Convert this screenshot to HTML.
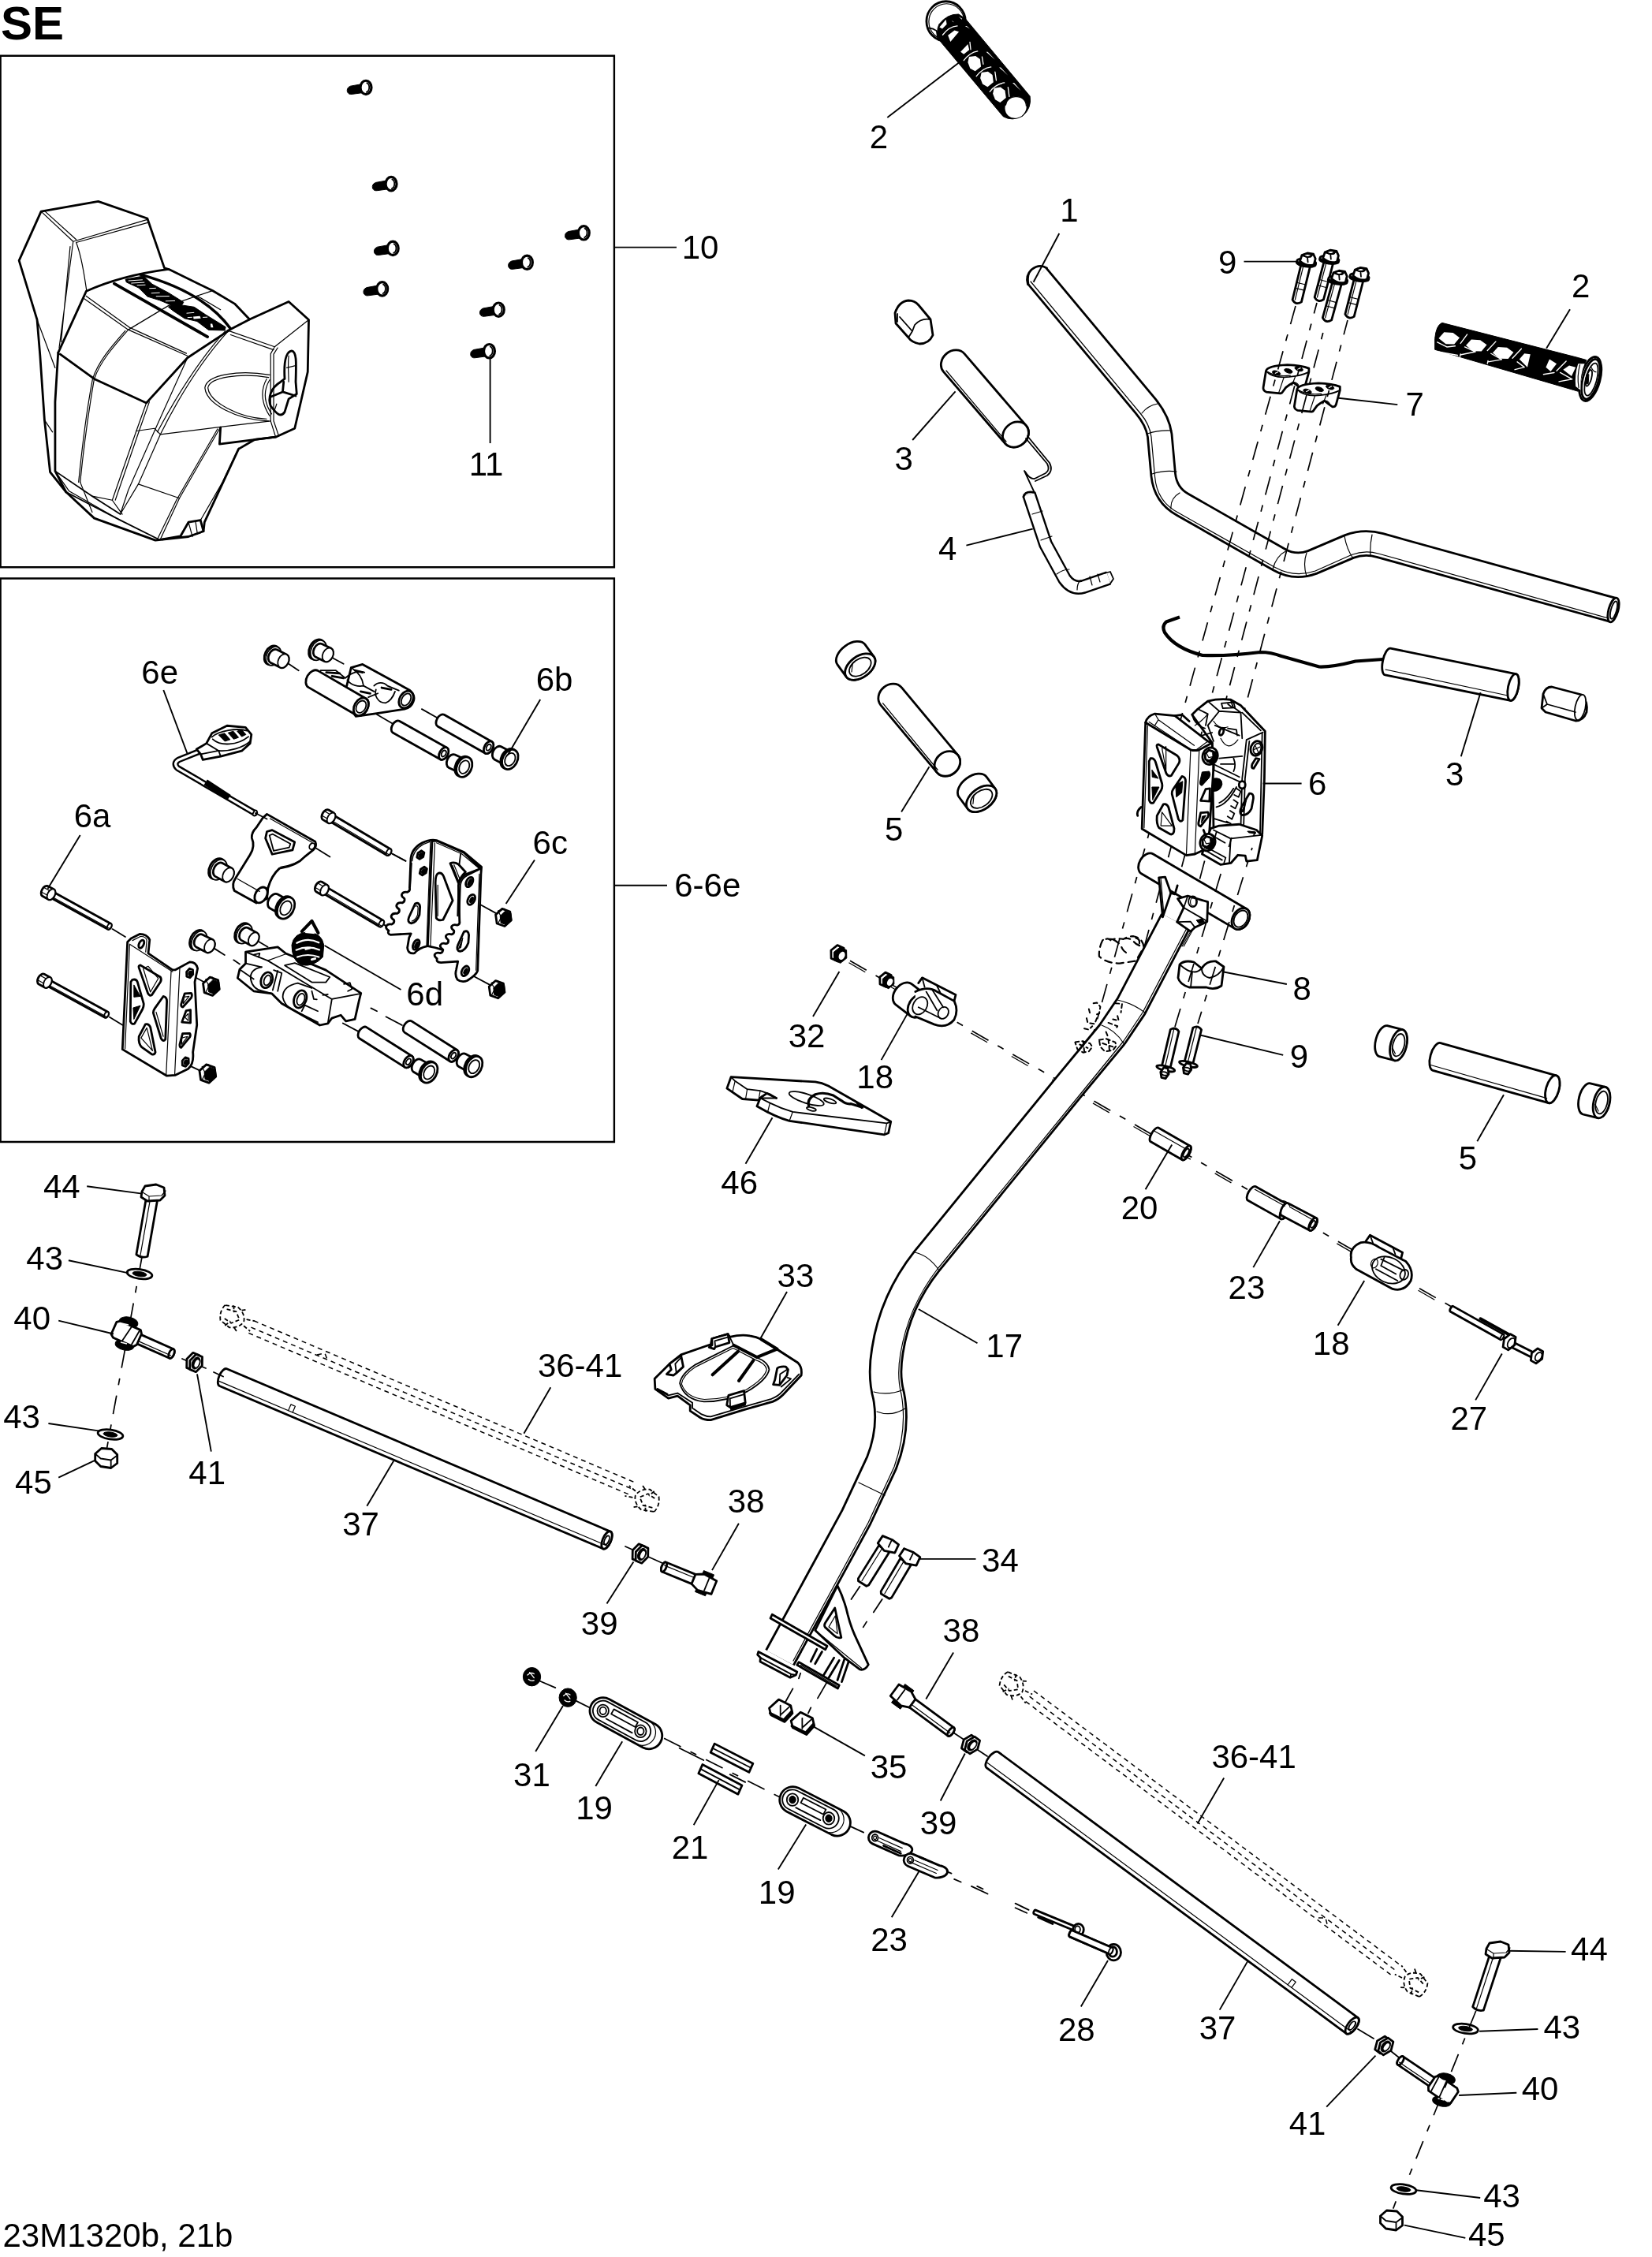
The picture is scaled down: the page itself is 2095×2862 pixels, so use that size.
<!DOCTYPE html>
<html><head><meta charset="utf-8"><title>SE steering</title>
<style>
html,body{margin:0;padding:0;background:#fff;}
body{width:2095px;height:2862px;overflow:hidden;font-family:"Liberation Sans",sans-serif;}
svg{display:block;position:absolute;left:0;top:0;}
svg *{vector-effect:non-scaling-stroke;}
.k{stroke:#000;stroke-width:2.8;fill:none;stroke-linejoin:round;stroke-linecap:round;}
.kf{stroke:#000;stroke-width:2.8;fill:#fff;stroke-linejoin:round;stroke-linecap:round;}
.n{stroke:#000;stroke-width:1.2;fill:none;stroke-linejoin:round;stroke-linecap:round;}
.nf{stroke:#000;stroke-width:1.2;fill:#fff;stroke-linejoin:round;stroke-linecap:round;}
.m{stroke:#000;stroke-width:1.8;fill:none;stroke-linejoin:round;stroke-linecap:round;}
.mf{stroke:#000;stroke-width:1.8;fill:#fff;stroke-linejoin:round;stroke-linecap:round;}
.b{fill:#000;stroke:#000;stroke-width:1;stroke-linejoin:round;}
.w{fill:#fff;stroke:none;}
.ld{stroke:#000;stroke-width:1.9;fill:none;stroke-linecap:butt;}
.da{stroke:#000;stroke-width:1.7;fill:none;stroke-dasharray:30 12;}
.ph{stroke:#000;stroke-width:1.5;fill:none;stroke-dasharray:6 5;}
text{font-family:"Liberation Sans",sans-serif;font-size:42px;fill:#000;}
</style></head><body>
<svg width="2095" height="2862" viewBox="0 0 2095 2862">
<rect x="0" y="0" width="2095" height="2862" fill="#fff"/>
<!-- 01_frames.svgf -->
<rect x="0.6" y="70.8" width="778.3" height="648.4" class="m" style="stroke-width:2.4;stroke-linejoin:miter"/>
<rect x="0.6" y="733.5" width="778.3" height="714.5" class="m" style="stroke-width:2.4;stroke-linejoin:miter"/>

<!-- 10_cover.svgf -->
<g transform="translate(0,230) scale(0.25424)">
<!-- silhouette -->
<path class="kf" d="M205,150 L490,100 L735,185 L820,432 L845,440 L1060,545 L1170,610 L1245,688 L1440,600 L1540,690 L1535,950 L1470,1232 L1375,1275 L1270,1288 L1190,1335 L1020,1700 L1015,1745 L940,1772 L775,1790 L470,1680 L330,1550 L250,1450 L222,1190 L200,870 L185,690 L95,395 Z"/>
<!-- body thick lines -->
<path class="k" d="M290,855 L430,548 Q600,470 840,438"/>
<path class="k" d="M290,855 L275,1100 L275,1445 L330,1550"/>
<path class="m" d="M275,1445 L460,1570 L600,1660"/><path class="m" d="M330,1550 L600,1690 L790,1785"/>
<path class="k" d="M300,862 L470,985 L730,1105 L935,880 L1140,745"/>
<path class="k" d="M570,510 L1035,775" style="stroke-width:3.8"/>
<path class="k" d="M700,465 C900,520 1060,610 1150,735" style="stroke-width:3.4"/>
<path class="k" d="M1245,688 L1135,745"/>
<path class="k" d="M1375,1275 L1095,1310 L1100,1228"/>

<path class="k" d="M810,1785 L900,1770 L940,1700 L1000,1690 L1015,1745"/>
<path class="n" d="M940,1700 L960,1772 M975,1695 L985,1760"/>
<!-- thin lines horn -->
<path class="n" d="M205,150 L365,300 M225,150 L380,290 M365,300 L735,190 M380,305 L740,205 M365,300 L295,830 M350,325 L305,800 M380,305 C410,380 420,470 432,545"/>
<path class="n" d="M185,690 L275,930 M222,1190 L262,1250"/>
<!-- thin lines body -->
<path class="n" d="M420,585 L640,740 L935,870 M430,572 L645,728 L930,858"/>
<path class="n" d="M640,740 L840,620 L1060,545 M985,572 L1100,640"/>
<path class="n" d="M640,740 C560,830 500,900 470,985 C450,1100 420,1300 400,1500 M625,745 C550,830 490,900 462,985 C440,1100 412,1300 392,1500"/>
<path class="n" d="M730,1105 L680,1245 L560,1590 L610,1660 M745,1100 L692,1250 L575,1590"/>
<path class="n" d="M935,880 L775,1235 L640,1540 L600,1660 M1140,745 C1000,900 880,1100 800,1262 L690,1510 L600,1660 M1125,745 C985,900 865,1100 785,1250"/>
<path class="n" d="M680,1245 L770,1232 L800,1262 L1100,1225 L1350,1195"/>
<path class="n" d="M690,1510 L895,1580"/>
<path class="n" d="M1100,1225 L895,1580 L800,1785 M1085,1235 L880,1590 L785,1785"/>
<path class="n" d="M275,1445 L345,1545 L600,1690 M400,1500 L460,1650 M460,1570 L560,1590"/>
<path class="n" d="M1190,1330 L1110,1500 L1000,1690"/>
<!-- wing thin lines -->
<path class="n" d="M1140,745 L1370,825 L1540,690 M1150,765 L1365,840 M1370,825 L1350,860 L1350,1195 L1375,1275 M1385,830 L1365,862 L1365,1195 L1390,1268"/>
<path class="n" d="M1345,965 C1200,940 1030,960 1022,1030 C1030,1110 1180,1190 1340,1195 M1340,978 C1200,955 1045,975 1037,1030 C1045,1100 1190,1180 1330,1185"/>
<path class="n" d="M1330,985 C1300,1040 1300,1100 1345,1170 M1345,990 C1315,1040 1315,1100 1355,1160"/>
<!-- keyhole -->
<path class="k" d="M1455,845 C1480,850 1478,900 1475,1000 L1480,1060 L1440,1085 L1420,1150 C1400,1180 1380,1160 1350,1120 C1335,1080 1350,1030 1400,1000 L1420,985 C1415,900 1425,850 1455,845 Z"/>
<path class="k" d="M1350,1075 L1410,1050 L1415,1000 M1410,1050 L1475,1070"/>
<path class="n" d="M1440,870 C1435,920 1440,960 1440,1000 M1430,930 L1470,920 M1380,1110 L1370,1140"/>
<!-- logo -->
</g>
<g transform="translate(130,330) scale(0.121065)">
<path class="b" d="M240,200 L430,165 L520,250 L690,340 L850,440 L830,470 L960,490 L1080,570 L1290,700 L1280,735 L1110,730 L990,640 L860,610 L740,530 L690,490 L720,470 L600,420 L470,380 L380,290 L250,230 Z"/>
<path d="M270,215 L420,205 M300,240 L440,232 M360,262 L450,258 M490,295 L560,292 M510,345 L600,340 M560,378 L700,376 M660,428 L760,425 M880,555 L960,548 M890,600 L940,597 M1050,598 L1100,596" stroke="#fff" stroke-width="1" fill="none"/>
<path class="w" d="M950,590 L1020,585 L1030,610 L955,615 Z M1130,665 L1150,665 L1160,705 L1135,705 Z"/>
</g>

<!-- 11_screws.svgf -->
<defs><g id="scr11"><path class="b" d="M2,-24 L-88,-8 Q-112,2 -106,26 Q-98,42 -80,39 L2,28 Z"/><ellipse cx="2" cy="0" rx="32" ry="40" class="kf" style="stroke-width:3.2"/><path class="m" d="M8,-26 C26,-18 26,18 6,27"/></g></defs>
<g transform="translate(420,80) scale(0.21791)">
<use href="#scr11" x="200" y="142"/>
<use href="#scr11" x="347" y="703"/>
<use href="#scr11" x="357" y="1078"/>
<use href="#scr11" x="295" y="1314"/>
<use href="#scr11" x="1468" y="988"/>
<use href="#scr11" x="1138" y="1160"/>
<use href="#scr11" x="972" y="1435"/>
<use href="#scr11" x="918" y="1676"/>
</g>
<!-- 20_box2a.svgf -->
<g transform="translate(300,780) scale(0.242131)">
<path class="m" d="M265,250 L325,290 M495,220 L560,255 M735,520 L820,570 M970,492 L1055,540"/>
<ellipse cx="185.0" cy="210.0" rx="36.4" ry="52.0" transform="rotate(26.6 185.0 210.0)" class="kf"/>
<ellipse cx="193.4" cy="214.2" rx="36.4" ry="52.0" transform="rotate(26.6 193.4 214.2)" class="mf"/>
<path class="kf" d="M177.3,248.6 L228.0,274.0 A26.6,38.0 26.6 0 0 262.0,206.0 L211.3,180.7 A26.6,38.0 26.6 0 0 177.3,248.6 Z"/>
<ellipse cx="245.0" cy="240.0" rx="26.6" ry="38.0" transform="rotate(26.6 245.0 240.0)" class="mf"/>
<ellipse cx="420.0" cy="180.0" rx="38.5" ry="55.0" transform="rotate(25.8 420.0 180.0)" class="kf"/>
<ellipse cx="428.9" cy="184.3" rx="38.5" ry="55.0" transform="rotate(25.8 428.9 184.3)" class="mf"/>
<path class="kf" d="M413.4,219.0 L461.5,242.2 A26.6,38.0 25.8 0 0 494.5,173.8 L446.4,150.6 A26.6,38.0 25.8 0 0 413.4,219.0 Z"/>
<ellipse cx="478.0" cy="208.0" rx="26.6" ry="38.0" transform="rotate(25.8 478.0 208.0)" class="mf"/>
<path class="kf" d="M600,275 L660,258 L905,392 Q940,420 925,455 Q915,485 880,492 L735,515 L625,530 L560,440 Z"/>
<path class="kf" d="M376.9,378.3 L626.9,523.3 A35.0,50.0 30.1 0 0 677.1,436.7 L427.1,291.7 A35.0,50.0 30.1 0 0 376.9,378.3 Z"/>
<ellipse cx="652.0" cy="480.0" rx="35.0" ry="50.0" transform="rotate(30.1 652.0 480.0)" class="kf"/>
<ellipse cx="652.0" cy="480.0" rx="23.8" ry="34.0" transform="rotate(30.1 652.0 480.0)" class="m"/>
<ellipse cx="888.0" cy="442.0" rx="34.0" ry="48.0" transform="rotate(30.0 888.0 442.0)" class="kf"/>
<ellipse cx="888.0" cy="442.0" rx="22.0" ry="34.0" transform="rotate(30.0 888.0 442.0)" class="m"/>
<path class="m" d="M440,290 L520,290 L570,330 M600,275 C640,300 660,330 665,370 M570,330 C600,300 640,290 670,300 M580,340 C600,370 640,375 665,370 M720,370 C740,350 770,350 790,370 M730,390 C720,420 740,460 780,460 C800,455 820,430 830,400 M790,370 L850,395 M665,370 L720,400 M690,430 L740,410"/>
<path class="k" d="M470,300 L540,305 M500,320 L560,330 M620,290 L660,300 M650,400 L700,410 M760,380 L810,390"/>
<path class="kf" d="M817.9,615.5 L1067.9,755.5 A21.7,35.0 29.2 0 0 1102.1,694.5 L852.1,554.5 A21.7,35.0 29.2 0 0 817.9,615.5 Z"/>
<ellipse cx="1085.0" cy="725.0" rx="21.7" ry="35.0" transform="rotate(29.2 1085.0 725.0)" class="kf"/>
<ellipse cx="1085.0" cy="725.0" rx="10.8" ry="17.5" transform="rotate(29.2 1085.0 725.0)" class="m"/>
<path class="kf" d="M1052.8,582.5 L1302.8,723.5 A21.7,35.0 29.4 0 0 1337.2,662.5 L1087.2,521.5 A21.7,35.0 29.4 0 0 1052.8,582.5 Z"/>
<ellipse cx="1320.0" cy="693.0" rx="21.7" ry="35.0" transform="rotate(29.4 1320.0 693.0)" class="kf"/>
<ellipse cx="1320.0" cy="693.0" rx="10.8" ry="17.5" transform="rotate(29.4 1320.0 693.0)" class="m"/>
<path class="kf" d="M1111.7,799.3 L1168.7,826.3 A26.6,38.0 25.3 0 0 1201.3,757.7 L1144.3,730.7 A26.6,38.0 25.3 0 0 1111.7,799.3 Z"/>
<ellipse cx="1185.0" cy="792.0" rx="26.6" ry="38.0" transform="rotate(25.3 1185.0 792.0)" class="mf"/>
<ellipse cx="1185.0" cy="792.0" rx="38.5" ry="55.0" transform="rotate(25.3 1185.0 792.0)" class="kf"/>
<ellipse cx="1192.5" cy="795.5" rx="38.5" ry="55.0" transform="rotate(25.3 1192.5 795.5)" class="kf"/>
<ellipse cx="1192.5" cy="795.5" rx="25.0" ry="35.8" transform="rotate(25.3 1192.5 795.5)" class="mf"/>
<path class="kf" d="M1350.3,755.6 L1407.3,785.6 A26.6,38.0 27.8 0 0 1442.7,718.4 L1385.7,688.4 A26.6,38.0 27.8 0 0 1350.3,755.6 Z"/>
<ellipse cx="1425.0" cy="752.0" rx="26.6" ry="38.0" transform="rotate(27.8 1425.0 752.0)" class="mf"/>
<ellipse cx="1425.0" cy="752.0" rx="38.5" ry="55.0" transform="rotate(27.8 1425.0 752.0)" class="kf"/>
<ellipse cx="1432.3" cy="755.8" rx="38.5" ry="55.0" transform="rotate(27.8 1432.3 755.8)" class="kf"/>
<ellipse cx="1432.3" cy="755.8" rx="25.0" ry="35.8" transform="rotate(27.8 1432.3 755.8)" class="mf"/>
</g>
<!-- 21_box2b.svgf -->
<g transform="translate(200,900) scale(0.266347)">
<path class="k" d="M225,188 L100,238 Q72,255 95,278 L462,492" style="stroke-width:8"/>
<path class="k" d="M225,188 L100,238 Q72,255 95,278 L462,492" style="stroke:#fff;stroke-width:3.2"/>
<path class="k" d="M228,345 L340,418" style="stroke-width:8;stroke-linecap:butt"/>
<ellipse cx="463.0" cy="492.0" rx="8.0" ry="14.0" transform="rotate(30.0 463.0 492.0)" class="mf"/>
<path class="kf" d="M185,188 L232,160 L258,112 L330,76 L418,84 L446,118 L440,160 L400,196 L300,222 L215,238 L205,212 Z"/>
<path class="m" d="M205,212 L290,195 L300,222 M232,160 L290,195 M258,130 C290,100 380,85 425,100 M262,140 C300,175 380,170 432,128 M290,195 C340,200 410,180 440,150"/>
<path class="b" d="M290,120 L320,150 L345,142 L318,112 Z M335,110 L362,140 L385,132 L360,102 Z M378,102 L400,128 L420,118 L400,95 Z"/>
<path class="kf" d="M520,497 L750,628 Q760,650 740,668 L700,700 Q660,745 580,755 Q540,790 525,850 L520,900 L470,920 L365,862 Q350,830 372,800 L440,690 Q465,650 448,610 Q445,585 470,560 L500,515 Z"/>
<path class="n" d="M535,518 L735,632"/>
<ellipse cx="735.0" cy="650.0" rx="12.0" ry="16.0" transform="rotate(30.0 735.0 650.0)" class="m"/>
<ellipse cx="492.0" cy="882.0" rx="27.0" ry="40.0" transform="rotate(30.0 492.0 882.0)" class="kf"/>
<path class="n" d="M380,805 L485,865"/>
<path class="k" d="M520,580 L545,573 L652,630 L642,668 L545,688 L513,612 Z"/>
<path class="m" d="M532,598 L548,592 L632,638 L626,656 L552,672 Z"/>
<path class="n" d="M700,700 Q655,740 585,748 M580,755 Q548,790 520,850"/>
<path class="m" d="M755,660 L820,700 M1115,685 L1180,720 M1080,1025 L1112,1045 M465,492 L520,520"/>
<path class="kf" d="M821.4,532.5 L1091.3,692.6 A10.2,17.0 30.7 0 0 1108.7,663.4 L838.8,503.2 A10.2,17.0 30.7 0 0 821.4,532.5 Z"/>
<ellipse cx="1100.0" cy="678.0" rx="10.2" ry="17.0" transform="rotate(30.7 1100.0 678.0)" class="mf"/>
<path class="n" d="M820.1,522.8 L1099.6,688.6"/>
<path class="kf" d="M786.2,523.2 L812.0,538.5 A16.7,27.0 30.7 0 0 839.6,492.1 L813.8,476.8 A16.7,27.0 30.7 0 0 786.2,523.2 Z"/>
<ellipse cx="825.8" cy="515.3" rx="16.7" ry="27.0" transform="rotate(30.7 825.8 515.3)" class="mf"/>
<path class="n" d="M782.7,503.7 L808.5,519.0"/>
<path class="n" d="M793.2,482.0 L819.0,497.3"/>
<path class="kf" d="M789.5,875.4 L1056.4,1032.6 A10.2,17.0 30.5 0 0 1073.6,1003.4 L806.8,846.1 A10.2,17.0 30.5 0 0 789.5,875.4 Z"/>
<ellipse cx="1065.0" cy="1018.0" rx="10.2" ry="17.0" transform="rotate(30.5 1065.0 1018.0)" class="mf"/>
<path class="n" d="M788.1,865.7 L1064.6,1028.6"/>
<path class="kf" d="M754.3,866.3 L780.1,881.5 A16.7,27.0 30.5 0 0 807.6,835.0 L781.7,819.7 A16.7,27.0 30.5 0 0 754.3,866.3 Z"/>
<ellipse cx="793.8" cy="858.2" rx="16.7" ry="27.0" transform="rotate(30.5 793.8 858.2)" class="mf"/>
<path class="n" d="M750.7,846.7 L776.6,862.0"/>
<path class="n" d="M761.2,825.0 L787.0,840.3"/>
<ellipse cx="282.0" cy="757.0" rx="35.4" ry="52.0" transform="rotate(28.2 282.0 757.0)" class="kf"/>
<ellipse cx="290.2" cy="761.4" rx="35.4" ry="52.0" transform="rotate(28.2 290.2 761.4)" class="mf"/>
<path class="kf" d="M274.1,793.6 L319.0,817.7 A24.5,36.0 28.2 0 0 353.0,754.3 L308.2,730.2 A24.5,36.0 28.2 0 0 274.1,793.6 Z"/>
<ellipse cx="336.0" cy="786.0" rx="24.5" ry="36.0" transform="rotate(28.2 336.0 786.0)" class="mf"/>
<path class="kf" d="M534.4,945.2 L584.4,973.2 A25.8,38.0 29.2 0 0 621.6,906.8 L571.6,878.8 A25.8,38.0 29.2 0 0 534.4,945.2 Z"/>
<ellipse cx="603.0" cy="940.0" rx="25.8" ry="38.0" transform="rotate(29.2 603.0 940.0)" class="mf"/>
<ellipse cx="603.0" cy="940.0" rx="37.4" ry="55.0" transform="rotate(29.2 603.0 940.0)" class="kf"/>
<ellipse cx="610.2" cy="944.0" rx="37.4" ry="55.0" transform="rotate(29.2 610.2 944.0)" class="kf"/>
<ellipse cx="610.2" cy="944.0" rx="24.3" ry="35.8" transform="rotate(29.2 610.2 944.0)" class="mf"/>
</g>
<!-- 22_box2c.svgf -->
<g transform="translate(470,1050) scale(0.139218)">
<path class="m" d="M985,690 L1150,780 M940,1350 L1090,1430 M200,235 L320,300 M130,885 L170,910"/>
<path class="w" d="M560,120 L600,115 L850,225 L820,235 L805,330 L790,850 L660,1110 L590,1090 L520,1075 Z"/>
<path class="kf" d="M365,300 Q365,190 470,135 Q540,100 600,112 L850,220 L1010,355 L1005,420 L975,1300 Q960,1340 880,1390 Q830,1410 790,1380 Q765,1340 780,1290 L795,1215 L640,1225 Q595,1225 605,1190 Q575.0,1166.1 585.3,1149.1 Q598.1,1127.9 635.8,1139.0 Q662.3,1131.8 656.2,1105.0 Q626.3,1081.1 636.5,1064.1 Q649.3,1042.9 687.0,1054.0 Q713.5,1046.8 707.5,1020.0 Q677.5,996.1 687.8,979.1 Q700.6,957.9 738.2,969.0 Q764.8,961.8 758.8,935.0 Q728.8,911.1 739.0,894.1 Q751.8,872.9 789.5,884.0 Q816.0,876.8 810.0,850.0 L800,520 Q810,450 870,420 L1000,370 L850,225 L600,115 L560,120 L520,1075 Q440,1090 400,1140 Q340,1150 335,1090 L350,1000 L368,962 L180,972 Q150,960 165,935 Q133.2,913.5 142.7,894.0 Q154.6,869.6 193.5,876.5 Q220.1,865.3 212.5,837.5 Q180.7,816.0 190.2,796.5 Q202.1,772.1 241.0,779.0 Q267.6,767.8 260.0,740.0 Q228.2,718.5 237.7,699.0 Q249.6,674.6 288.5,681.5 Q315.1,670.3 307.5,642.5 Q275.7,621.0 285.2,601.5 Q297.1,577.1 336.0,584.0 Q362.6,572.8 355.0,545.0 L365,300 Z"/>
<path class="k" d="M520,1075 L590,1090 L660,1110"/>
<path class="n" d="M545,125 L510,1070 M585,135 L545,1078 M600,135 L830,235 L985,365"/>
<path class="m" d="M820,232 L808,330"/>
<path class="m" d="M1000,370 L870,420 Q810,450 800,520 L792,800 M985,380 L880,432 Q825,460 818,520 L808,800"/>
<path class="n" d="M380,300 Q385,200 480,148 L540,125 M990,420 L960,1295 M375,320 L362,540"/>
<path class="k" d="M479.1,261.9 L446.2,283.2 L422.1,266.4 L430.9,228.1 L463.8,206.8 L487.9,223.6 Z"/>
<path class="b" d="M474.1,259.2 L452.1,273.5 L436.1,262.2 L441.9,236.8 L463.9,222.5 L479.9,233.8 Z"/>
<path class="k" d="M504.1,408.9 L471.2,430.2 L447.1,413.4 L455.9,375.1 L488.8,353.8 L512.9,370.6 Z"/>
<path class="b" d="M499.1,406.2 L477.1,420.5 L461.1,409.2 L466.9,383.8 L488.9,369.5 L504.9,380.8 Z"/>
<path class="k" d="M405,690 Q445,670 450,720 L445,790 Q420,860 370,868 Q330,860 350,810 Z"/>
<path class="n" d="M410,712 Q430,700 432,730 L428,790 Q410,840 375,848"/>
<ellipse cx="415.0" cy="1062.0" rx="26.0" ry="48.0" transform="rotate(25.0 415.0 1062.0)" class="k"/>
<ellipse cx="418.0" cy="1064.0" rx="14.0" ry="34.0" transform="rotate(25.0 418.0 1064.0)" class="b"/>
<path class="k" d="M620,410 Q650,405 665,440 L748,660 L660,835 Q620,850 598,820 L590,500 Q590,420 620,410 Z"/>
<path class="n" d="M612,520 L612,800"/>
<path class="k" d="M725,322 Q760,305 800,330 L865,400 Q820,440 800,500 Z"/>
<path class="n" d="M745,340 L800,480 M760,335 L815,470"/>
<ellipse cx="900.0" cy="492.0" rx="28.0" ry="48.0" transform="rotate(28.0 900.0 492.0)" class="k"/>
<ellipse cx="903.0" cy="494.0" rx="14.0" ry="34.0" transform="rotate(28.0 903.0 494.0)" class="b"/>
<ellipse cx="917.0" cy="652.0" rx="30.0" ry="50.0" transform="rotate(28.0 917.0 652.0)" class="k"/>
<ellipse cx="920.0" cy="654.0" rx="15.0" ry="30.0" transform="rotate(28.0 920.0 654.0)" class="b"/>
<path class="k" d="M850,945 Q890,925 895,975 L890,1045 Q865,1115 815,1123 Q775,1115 795,1065 Z"/>
<path class="b" d="M840,1000 L822,1090 L800,1100 Z"/>
<ellipse cx="862.0" cy="1302.0" rx="30.0" ry="48.0" transform="rotate(28.0 862.0 1302.0)" class="k"/>
<ellipse cx="865.0" cy="1304.0" rx="15.0" ry="30.0" transform="rotate(28.0 865.0 1304.0)" class="b"/>
<path class="kf" d="M1280.9,840.8 L1221.2,894.6 L1150.3,868.8 L1139.1,789.2 L1198.8,735.4 L1269.7,761.2 Z"/>
<path class="b" d="M1284.7,839.2 L1238.8,883.3 L1186.1,864.1 L1179.3,800.8 L1225.2,756.7 L1277.9,775.9 Z"/>
<path class="n" d="M1190,810 l-30,-55 l60,-20 M1190,810 l-28,58"/>
<path class="kf" d="M1220.9,1495.8 L1161.2,1549.6 L1090.3,1523.8 L1079.1,1444.2 L1138.8,1390.4 L1209.7,1416.2 Z"/>
<path class="b" d="M1224.7,1494.2 L1178.8,1538.3 L1126.1,1519.1 L1119.3,1455.8 L1165.2,1411.7 L1217.9,1430.9 Z"/>
<path class="n" d="M1130,1465 l-30,-55 l60,-20 M1130,1465 l-28,58"/>
</g>
<!-- 23_box2d.svgf -->
<g transform="translate(30,1100) scale(0.181597)">
<path class="m" d="M620,430 L710,485 M600,1045 L690,1100 M1185,760 L1260,800 M1150,1380 L1235,1420"/>
<path class="kf" d="M173.0,202.8 L587.4,431.3 A13.2,22.0 28.9 0 0 608.6,392.7 L194.2,164.3 A13.2,22.0 28.9 0 0 173.0,202.8 Z"/>
<ellipse cx="598.0" cy="412.0" rx="13.2" ry="22.0" transform="rotate(28.9 598.0 412.0)" class="mf"/>
<path class="n" d="M170.8,190.3 L597.9,425.8"/>
<path class="kf" d="M130.7,200.0 L172.7,223.2 A24.8,40.0 28.9 0 0 211.3,153.1 L169.3,130.0 A24.8,40.0 28.9 0 0 130.7,200.0 Z"/>
<ellipse cx="192.0" cy="188.2" rx="24.8" ry="40.0" transform="rotate(28.9 192.0 188.2)" class="mf"/>
<path class="n" d="M123.8,171.1 l42.0,23.2"/>
<path class="n" d="M139.4,138.6 l42.0,23.2"/>
<path class="kf" d="M148.1,817.7 L567.4,1047.3 A13.2,22.0 28.7 0 0 588.6,1008.7 L169.2,779.1 A13.2,22.0 28.7 0 0 148.1,817.7 Z"/>
<ellipse cx="578.0" cy="1028.0" rx="13.2" ry="22.0" transform="rotate(28.7 578.0 1028.0)" class="mf"/>
<path class="n" d="M145.9,805.3 L578.0,1041.8"/>
<path class="kf" d="M105.8,815.1 L147.9,838.1 A24.8,40.0 28.7 0 0 186.3,768.0 L144.2,744.9 A24.8,40.0 28.7 0 0 105.8,815.1 Z"/>
<ellipse cx="167.1" cy="803.0" rx="24.8" ry="40.0" transform="rotate(28.7 167.1 803.0)" class="mf"/>
<path class="n" d="M98.8,786.2 l42.1,23.0"/>
<path class="n" d="M114.3,753.6 l42.1,23.0"/>
<path class="kf" d="M725,520 L690,1270 L1000,1455 L1060,1450 L1150,1405 Q1190,1370 1182,1290 L1210,1100 L1195,800 L1215,705 Q1205,660 1160,660 L1060,715 L1040,715 L870,600 L880,505 Q860,465 810,465 L750,495 Z"/>
<path class="n" d="M1030,720 L995,1450 M1090,705 L1055,1445 M740,535 L1040,728 M740,540 L708,1265"/>
<path class="n" d="M760,510 L815,482 Q855,480 860,510 L852,590"/>
<ellipse cx="822.0" cy="535.0" rx="16.0" ry="30.0" transform="rotate(25.0 822.0 535.0)" class="k"/>
<path class="k" d="M815,682 L955,765 Q965,780 955,800 L895,890 Q880,900 868,880 L805,700 Q800,685 815,682 Z"/>
<path class="n" d="M835,705 L870,690 L940,775 L885,870 Z"/>
<path class="k" d="M758,785 Q785,775 795,800 L838,950 Q840,970 830,990 L775,1090 Q755,1100 745,1075 L748,800 Z"/>
<path class="b" d="M770,820 L815,900 L770,905 Z M765,980 L815,965 L770,1060 Z"/>
<path class="k" d="M975,900 Q1000,905 1000,935 L990,1200 Q975,1220 960,1195 L905,1015 Q905,1000 915,985 Z"/>
<path class="n" d="M925,1010 L975,1180"/>
<path class="k" d="M850,1095 Q875,1090 885,1115 L920,1290 Q915,1310 895,1305 L825,1255 Q800,1230 805,1180 Z"/>
<path class="n" d="M820,1190 L860,1120 L900,1280 Z"/>
<path class="k" d="M1182.4,746.1 L1161.1,769.7 L1138.7,761.6 L1137.6,729.9 L1158.9,706.3 L1181.3,714.4 Z"/>
<path class="b" d="M1176.2,744.8 L1163.7,758.7 L1150.5,753.9 L1149.8,735.2 L1162.3,721.3 L1175.5,726.1 Z"/>
<path class="k" d="M1152.4,1366.1 L1131.1,1389.7 L1108.7,1381.6 L1107.6,1349.9 L1128.9,1326.3 L1151.3,1334.4 Z"/>
<path class="b" d="M1146.2,1364.8 L1133.7,1378.7 L1120.5,1373.9 L1119.8,1355.2 L1132.3,1341.3 L1145.5,1346.1 Z"/>
<path class="k" d="M1125,880 L1170,878 Q1180,890 1170,910 L1112,975 Q1098,975 1100,955 Z"/>
<path class="k" d="M1135,1000 L1165,995 L1165,1085 L1105,1080 Z"/>
<path class="k" d="M1110,1160 L1160,1158 Q1168,1170 1160,1185 L1100,1258 Q1088,1255 1090,1235 Z"/>
<path class="n" d="M1120,905 L1155,900 L1115,950 Z M1125,1045 L1150,1020 L1150,1070 Z M1105,1190 L1145,1180 L1103,1235 Z"/>
<path class="kf" d="M1367.1,850.8 L1319.0,894.1 L1261.9,873.3 L1252.9,809.2 L1301.0,765.9 L1358.1,786.7 Z"/>
<path class="b" d="M1369.5,849.1 L1333.4,883.9 L1291.8,868.8 L1286.5,818.9 L1322.6,784.1 L1364.2,799.2 Z"/>
<path class="n" d="M1294,826 l-24,-44 l48,-16 M1294,826 l-22,46"/>
<path class="kf" d="M1342.1,1460.8 L1294.0,1504.1 L1236.9,1483.3 L1227.9,1419.2 L1276.0,1375.9 L1333.1,1396.7 Z"/>
<path class="b" d="M1344.5,1459.1 L1308.4,1493.9 L1266.8,1478.8 L1261.5,1428.9 L1297.6,1394.1 L1339.2,1409.2 Z"/>
<path class="n" d="M1269,1436 l-24,-44 l48,-16 M1269,1436 l-22,46"/>
</g>
<!-- 24_box2e.svgf -->
<g transform="translate(220,1150) scale(0.254239)">
<path class="m" d="M200,205 L255,240 M300,265 L330,285 M420,170 L470,200 M845,580 L920,620 M985,505 L1015,520 M1060,548 L1140,590"/>
<ellipse cx="120.0" cy="165.0" rx="35.4" ry="52.0" transform="rotate(26.6 120.0 165.0)" class="kf"/>
<ellipse cx="128.4" cy="169.2" rx="35.4" ry="52.0" transform="rotate(26.6 128.4 169.2)" class="mf"/>
<path class="kf" d="M113.6,201.0 L164.3,226.3 A23.8,35.0 26.6 0 0 195.7,163.7 L145.0,138.3 A23.8,35.0 26.6 0 0 113.6,201.0 Z"/>
<ellipse cx="180.0" cy="195.0" rx="23.8" ry="35.0" transform="rotate(26.6 180.0 195.0)" class="mf"/>
<ellipse cx="345.0" cy="130.0" rx="35.4" ry="52.0" transform="rotate(28.6 345.0 130.0)" class="kf"/>
<ellipse cx="353.2" cy="134.5" rx="35.4" ry="52.0" transform="rotate(28.6 353.2 134.5)" class="mf"/>
<path class="kf" d="M337.4,165.7 L383.2,190.7 A23.8,35.0 28.6 0 0 416.8,129.3 L370.9,104.3 A23.8,35.0 28.6 0 0 337.4,165.7 Z"/>
<ellipse cx="400.0" cy="160.0" rx="23.8" ry="35.0" transform="rotate(28.6 400.0 160.0)" class="mf"/>
<path class="kf" d="M360,225 L520,200 L560,232 L760,315 L935,430 L925,470 L905,560 L860,570 L835,540 L790,555 L770,582 L730,590 L540,482 L490,432 L400,420 L320,355 L330,312 L360,282 Z"/>
<path class="m" d="M360,225 L470,268 L620,358 L790,460 L935,432 M360,282 L440,300 M330,312 L400,360 M790,460 L770,580"/>
<path class="n" d="M470,268 L560,235"/>
<path class="m" d="M440,300 Q380,310 385,360 Q395,410 440,418 L490,432 M500,315 L540,330 L520,420 M520,318 L495,415"/>
<ellipse cx="465.0" cy="365.0" rx="28.0" ry="40.0" transform="rotate(20.0 465.0 365.0)" class="kf"/>
<ellipse cx="468.0" cy="366.0" rx="16.0" ry="26.0" transform="rotate(20.0 468.0 366.0)" class="m"/>
<path class="m" d="M620,380 Q545,395 545,450 Q555,500 610,520 L720,575 M620,380 L690,405 M640,520 L655,490 L720,520"/>
<ellipse cx="632.0" cy="460.0" rx="30.0" ry="45.0" transform="rotate(20.0 632.0 460.0)" class="kf"/>
<ellipse cx="635.0" cy="461.0" rx="18.0" ry="30.0" transform="rotate(20.0 635.0 461.0)" class="m"/>
<path class="m" d="M690,420 L700,460 L715,462 M745,440 L770,436 M400,238 L430,232 L425,250 M850,385 L880,378 L890,410 L870,420"/>
<path class="m" d="M555,292 L605,280 L780,350 L760,376 L690,376 Z"/>
<path class="k" d="M640,122 L690,70 L722,130" style="stroke-width:4"/>
<path class="b" d="M590,190 Q600,130 670,125 Q740,130 750,190 L745,250 Q700,300 640,290 Q590,270 590,190 Z"/>
<path class="k" d="M615,180 Q670,150 725,178 M612,215 Q670,190 728,214 M618,250 Q670,230 725,250" style="stroke:#fff;stroke-width:2.2"/>
<path class="k" d="M660,210 l20,-5 M690,262 l16,-4" style="stroke:#fff;stroke-width:3"/>
<path class="w" d="M655,130 L690,90 L705,135 Z"/>
<path class="kf" d="M927.3,655.9 L1154.3,799.9 A20.5,33.0 32.4 0 0 1189.7,744.1 L962.7,600.1 A20.5,33.0 32.4 0 0 927.3,655.9 Z"/>
<ellipse cx="1172.0" cy="772.0" rx="20.5" ry="33.0" transform="rotate(32.4 1172.0 772.0)" class="kf"/>
<ellipse cx="1172.0" cy="772.0" rx="10.2" ry="16.5" transform="rotate(32.4 1172.0 772.0)" class="m"/>
<path class="kf" d="M1152.3,625.9 L1379.3,769.9 A20.5,33.0 32.4 0 0 1414.7,714.1 L1187.7,570.1 A20.5,33.0 32.4 0 0 1152.3,625.9 Z"/>
<ellipse cx="1397.0" cy="742.0" rx="20.5" ry="33.0" transform="rotate(32.4 1397.0 742.0)" class="kf"/>
<ellipse cx="1397.0" cy="742.0" rx="10.2" ry="16.5" transform="rotate(32.4 1397.0 742.0)" class="m"/>
<path class="kf" d="M1197.3,823.3 L1250.3,853.3 A24.5,36.0 29.5 0 0 1285.7,790.7 L1232.7,760.7 A24.5,36.0 29.5 0 0 1197.3,823.3 Z"/>
<ellipse cx="1268.0" cy="822.0" rx="24.5" ry="36.0" transform="rotate(29.5 1268.0 822.0)" class="mf"/>
<ellipse cx="1268.0" cy="822.0" rx="37.4" ry="55.0" transform="rotate(29.5 1268.0 822.0)" class="kf"/>
<ellipse cx="1275.2" cy="826.1" rx="37.4" ry="55.0" transform="rotate(29.5 1275.2 826.1)" class="kf"/>
<ellipse cx="1275.2" cy="826.1" rx="24.3" ry="35.8" transform="rotate(29.5 1275.2 826.1)" class="mf"/>
<path class="kf" d="M1422.9,796.7 L1474.9,824.7 A24.5,36.0 28.3 0 0 1509.1,761.3 L1457.1,733.3 A24.5,36.0 28.3 0 0 1422.9,796.7 Z"/>
<ellipse cx="1492.0" cy="793.0" rx="24.5" ry="36.0" transform="rotate(28.3 1492.0 793.0)" class="mf"/>
<ellipse cx="1492.0" cy="793.0" rx="37.4" ry="55.0" transform="rotate(28.3 1492.0 793.0)" class="kf"/>
<ellipse cx="1499.3" cy="796.9" rx="37.4" ry="55.0" transform="rotate(28.3 1499.3 796.9)" class="kf"/>
<ellipse cx="1499.3" cy="796.9" rx="24.3" ry="35.8" transform="rotate(28.3 1499.3 796.9)" class="mf"/>
</g>
<!-- 30_handlebar.svgf -->
<g>
<path d="M1315.4,350.3 L1452,514 Q1468,533 1470.7,552 L1475.2,602 Q1478,628 1500,640 L1622,709.5 Q1642,721 1664,713 L1711,693 Q1730,686 1750,691.5 L2046,773.5" fill="none" stroke="#000" stroke-width="33.50" stroke-linejoin="round" stroke-linecap="butt" />
<path d="M1315.4,350.3 L1452,514 Q1468,533 1470.7,552 L1475.2,602 Q1478,628 1500,640 L1622,709.5 Q1642,721 1664,713 L1711,693 Q1730,686 1750,691.5 L2046,773.5" fill="none" stroke="#fff" stroke-width="27.90" stroke-linejoin="round" stroke-linecap="butt" />
<path class="kf" d="M1327.5,340 Q1318,334 1308,342 Q1300,350 1303.5,360.5"/>
<path class="n" d="M1306,345 Q1303,352 1305,362"/>
<ellipse cx="2046.0" cy="773.5" rx="6.0" ry="15.8" transform="rotate(15.5 2046.0 773.5)" class="kf"/>
<ellipse cx="2046.5" cy="773.6" rx="3.6" ry="11.5" transform="rotate(15.5 2046.5 773.6)" class="m"/>
<path class="n" d="M1307,357 L1446,524 Q1458,538 1460,554 L1464.5,604 Q1467,636 1494,650 L1617,719.5 Q1642,733 1668,724 L1714,703.5 Q1731,697 1748,702 L2040,784"/>
<path class="n" d="M1448,524 Q1456,514 1468,512 M1455,550 Q1470,545 1486,546 M1461,601 Q1476,596 1492,598 M1485,645 Q1484,632 1496,625 M1614,722 Q1618,705 1632,698 M1657,731 Q1652,715 1657,701 M1705,680 Q1708,697 1716,708 M1740,678 Q1737,692 1738,705"/>
</g>
<!-- 31_left34.svgf -->
<g>
<path class="kf" d="M1135,397 Q1140,382 1152,381 Q1160,381 1165,387 L1180,405 L1183,425 Q1178,436 1166,436 Q1156,434 1152,428 L1136,410 Z"/>
<path class="m" d="M1180,405 Q1168,403 1160,412 L1157,420 L1141,402 M1157,420 L1152,428 M1138,398 L1138,408"/>
<path class="kf" d="M1196.5,471.4 L1274.7,562.4 A14.9,17.5 49.3 0 0 1301.3,539.6 L1223.1,448.6 A14.9,17.5 49.3 0 0 1196.5,471.4 Z"/>
<ellipse cx="1288.0" cy="551.0" rx="14.9" ry="17.5" transform="rotate(49.3 1288.0 551.0)" class="kf"/>
<path class="n" d="M1200,470 L1276,560"/>
<path class="m" d="M1301,556 L1328,588 Q1332,596 1326,600 L1312,607 Q1306,608 1300,598 M1303,553 L1331,587 Q1336,597 1328,603 L1313,610 M1299,597 L1312,625"/>
<path d="M1305,627 L1326,690 L1350,734 Q1360,748 1374,744 L1406,733" fill="none" stroke="#000" stroke-width="18.00" stroke-linejoin="round" stroke-linecap="butt" />
<path d="M1305,627 L1326,690 L1350,734 Q1360,748 1374,744 L1406,733" fill="none" stroke="#fff" stroke-width="13.20" stroke-linejoin="round" stroke-linecap="butt" />
<path class="kf" d="M1298,630 Q1300,622 1312,624.5" style="fill:none"/>
<path class="m" d="M1400,727 L1408,725 L1412,734 L1408,740"/>
<path class="n" d="M1309,652 L1322,648 M1320,685 L1334,680 M1340,728 Q1348,722 1356,722 M1366,748 Q1366,740 1370,736 M1385,742 L1382,731 M1395,738 L1392,728"/>
</g>
<!-- 32_gripL.svgf -->
<g transform="translate(1160,0) scale(0.102902)">
<ellipse cx="385.0" cy="262.0" rx="240.0" ry="245.0" transform="rotate(0.0 385.0 262.0)" class="kf"/>
<ellipse cx="392" cy="268" rx="218" ry="222" class="n"/>
<path class="m" d="M175,345 Q230,350 270,380 L285,470"/>
<path class="b" d="M620,225 L1420,1185 Q1445,1330 1330,1430 Q1200,1500 1090,1435 L320,515 Q250,400 300,300 Q400,170 540,175 Z"/>
<ellipse cx="1245.0" cy="1322.0" rx="128.0" ry="138.0" transform="rotate(40.0 1245.0 1322.0)" class="w"/>
<path d="M1120,1300 Q1130,1200 1250,1190 Q1370,1200 1375,1310" fill="none" stroke="#000" stroke-width="1.2"/>
<path class="w" d="M670,700 l80,-10 l55,40 l12,90 l-72,58 l-62,-35 l-28,-75 Z"/>
<path class="w" d="M823,893 l80,-10 l55,40 l12,90 l-72,58 l-62,-35 l-28,-75 Z"/>
<path class="w" d="M978,1085 l80,-10 l55,40 l12,90 l-72,58 l-62,-35 l-28,-75 Z"/>
<path class="w" d="M565,640 L655,545 L672,615 L605,668 Z"/>
<path class="w" d="M410,435 L490,375 L545,390 L440,515 Z"/>
<path class="w" d="M305,335 L385,240 L395,300 L340,355 Z"/>
<path class="w" d="M455,250 L470,270 L485,275 Z M540,205 L580,240 L585,230 Z M620,320 L680,355 L640,320 Z M880,640 L990,735 L900,640 Z M1040,830 L1150,930 L1060,830 Z M1205,1020 L1310,1120 L1225,1020 Z"/>
<path class="k" d="M345,430 Q420,330 525,320 M605,745 Q680,645 775,630 M760,940 Q835,840 940,825 M925,1130 Q1000,1035 1105,1020 M680,520 L690,610 M830,700 L845,790 M990,885 L1005,990 M1150,1075 L1165,1190" style="stroke:#fff;stroke-width:1.3"/>
</g>
<!-- 32_gripR.svgf -->
<g transform="translate(1800,390) scale(0.151332)">
<ellipse cx="1432.0" cy="598.0" rx="82.0" ry="190.0" transform="rotate(15.0 1432.0 598.0)" class="kf"/>
<path class="b" d="M190,128 L1330,420 L1400,440 Q1350,560 1330,702 L1290,690 L130,352 L130,260 Q140,150 190,128 Z"/>
<ellipse cx="1436.0" cy="600.0" rx="66.0" ry="172.0" transform="rotate(15.0 1436.0 600.0)" class="kf"/>
<ellipse cx="1440.0" cy="602.0" rx="46.0" ry="140.0" transform="rotate(15.0 1440.0 602.0)" class="mf"/>
<ellipse cx="1420.0" cy="590.0" rx="22.0" ry="70.0" transform="rotate(15.0 1420.0 590.0)" class="mf"/>
<path class="b" d="M1400,560 L1420,560 L1415,640 L1395,640 Z"/>
<path class="n" d="M1440,500 Q1460,540 1480,540"/>
<path class="w" d="M1330,470 Q1300,560 1310,660 L1350,690 Q1345,560 1385,470 Z"/>
<path class="n" d="M1345,480 Q1320,570 1335,670"/>
<path class="w" d="M162,257 l45,-50 l75,5 l55,40 l-45,55 l-70,-2 Z"/>
<path class="w" d="M390,317 l45,-50 l75,5 l55,40 l-45,55 l-70,-2 Z"/>
<path class="w" d="M614,380 l45,-50 l75,5 l55,40 l-45,55 l-70,-2 Z"/>
<path class="w" d="M838,432 L880,385 L930,392 L905,500 Z"/>
<path class="w" d="M1060,500 L1090,432 L1150,470 L1100,535 Z"/>
<path class="w" d="M1205,520 L1255,485 L1310,500 L1275,575 Z"/>
<path class="k" d="M150,290 L230,330 L300,322 M165,372 L320,400 M345,300 L400,225 M350,395 L470,370 L380,330 M570,360 L640,285 M575,455 L690,435 L600,385 M780,425 L855,345 M800,520 L880,500 L820,455 M1040,560 L1130,545 M1150,530 L1230,450 M1170,620 L1280,600 L1180,545 M340,410 L345,390 M570,470 L575,445" style="stroke:#fff;stroke-width:1.4"/>
</g>
<!-- 33_b9c7.svgf -->
<g transform="translate(1590,300) scale(0.127113)">
<path class="kf" d="M472.3,277.5 L386.2,629.8 Q419.1,689.3 475.6,651.6 L561.6,299.3 Z"/>
<path class="n" d="M428.2,458.1 L517.5,479.9"/>
<path class="n" d="M414.5,514.0 L503.9,535.8"/>
<path class="n" d="M496.8,283.5 L412.0,630.9"/>
<ellipse cx="521.7" cy="269.0" rx="95.0" ry="30.0" transform="rotate(8.0 521.7 269.0)" class="kf"/>
<ellipse cx="525.3" cy="254.4" rx="95.0" ry="30.0" transform="rotate(8.0 525.3 254.4)" class="kf"/>
<path class="kf" d="M460,245 l20,-60 l55,-20 l60,10 l20,45 l-15,60 q-70,25 -140,-35 Z"/>
<path class="m" d="M485,190 l50,15 l55,-20 M535,205 l5,50"/>
<ellipse cx="538.0" cy="187.0" rx="38.0" ry="16.0" transform="rotate(8.0 538.0 187.0)" class="m"/>
<path class="kf" d="M701.5,246.4 L606.9,604.1 Q638.6,664.2 695.9,627.6 L790.4,269.9 Z"/>
<path class="n" d="M653.2,429.1 L742.1,452.6"/>
<path class="n" d="M638.2,485.7 L727.2,509.2"/>
<path class="n" d="M725.9,252.9 L632.7,605.7"/>
<ellipse cx="751.1" cy="238.8" rx="95.0" ry="30.0" transform="rotate(8.0 751.1 238.8)" class="kf"/>
<ellipse cx="754.9" cy="224.3" rx="95.0" ry="30.0" transform="rotate(8.0 754.9 224.3)" class="kf"/>
<path class="kf" d="M690,215 l20,-60 l55,-20 l60,10 l20,45 l-15,60 q-70,25 -140,-35 Z"/>
<path class="m" d="M715,160 l50,15 l55,-20 M765,175 l5,50"/>
<ellipse cx="768.0" cy="157.0" rx="38.0" ry="16.0" transform="rotate(8.0 768.0 157.0)" class="m"/>
<path class="kf" d="M786.0,450.8 L687.3,808.7 Q718.4,869.1 776.0,833.1 L874.7,475.3 Z"/>
<path class="n" d="M735.6,633.5 L824.3,658.0"/>
<path class="n" d="M720.0,690.0 L808.7,714.5"/>
<path class="n" d="M810.4,457.5 L713.0,810.6"/>
<ellipse cx="835.7" cy="443.7" rx="95.0" ry="30.0" transform="rotate(8.0 835.7 443.7)" class="kf"/>
<ellipse cx="839.7" cy="429.3" rx="95.0" ry="30.0" transform="rotate(8.0 839.7 429.3)" class="kf"/>
<path class="kf" d="M775,420 l20,-60 l55,-20 l60,10 l20,45 l-15,60 q-70,25 -140,-35 Z"/>
<path class="m" d="M800,365 l50,15 l55,-20 M850,380 l5,50"/>
<ellipse cx="853.0" cy="362.0" rx="38.0" ry="16.0" transform="rotate(8.0 853.0 362.0)" class="m"/>
<path class="kf" d="M1001.8,421.9 L911.6,774.4 Q943.8,834.2 1000.8,797.2 L1090.9,444.7 Z"/>
<path class="n" d="M955.6,602.5 L1044.7,625.3"/>
<path class="n" d="M941.3,658.4 L1030.4,681.2"/>
<path class="n" d="M1026.3,428.2 L937.4,775.8"/>
<ellipse cx="1051.3" cy="413.9" rx="95.0" ry="30.0" transform="rotate(8.0 1051.3 413.9)" class="kf"/>
<ellipse cx="1055.0" cy="399.4" rx="95.0" ry="30.0" transform="rotate(8.0 1055.0 399.4)" class="kf"/>
<path class="kf" d="M990,390 l20,-60 l55,-20 l60,10 l20,45 l-15,60 q-70,25 -140,-35 Z"/>
<path class="m" d="M1015,335 l50,15 l55,-20 M1065,350 l5,50"/>
<ellipse cx="1068.0" cy="332.0" rx="38.0" ry="16.0" transform="rotate(8.0 1068.0 332.0)" class="m"/>
<g transform="translate(335,1345)">
<path class="kf" d="M-213,-5 Q-200,-55 0,-65 Q140,-60 215,-30 L215,5 L175,150 Q165,175 140,170 Q95,140 60,110 Q15,135 -15,160 L-55,215 L-70,220 L-210,205 Q-245,190 -240,160 Z"/>
<path class="m" d="M-213,-5 Q-150,70 20,55 Q150,40 215,5"/>
<path class="n" d="M-195,5 Q-120,55 30,40"/>
<path class="n" d="M-35,60 l-50,150 M80,50 l-35,90 M60,110 q30,-5 50,25"/>
<ellipse cx="-110.0" cy="15.0" rx="42.0" ry="20.0" transform="rotate(18.0 -110.0 15.0)" class="b"/>
<ellipse cx="10.0" cy="-5.0" rx="42.0" ry="20.0" transform="rotate(18.0 10.0 -5.0)" class="b"/>
<ellipse cx="115.0" cy="-25.0" rx="42.0" ry="20.0" transform="rotate(18.0 115.0 -25.0)" class="b"/>
<path class="k" d="M-120,18 l25,-12 M105,-22 l25,-12" style="stroke:#fff;stroke-width:1.2"/>
</g>
<g transform="translate(645,1528)">
<path class="kf" d="M-213,-5 Q-200,-55 0,-65 Q140,-60 215,-30 L215,5 L175,150 Q165,175 140,170 Q95,140 60,110 Q15,135 -15,160 L-55,215 L-70,220 L-210,205 Q-245,190 -240,160 Z"/>
<path class="m" d="M-213,-5 Q-150,70 20,55 Q150,40 215,5"/>
<path class="n" d="M-195,5 Q-120,55 30,40"/>
<path class="n" d="M-35,60 l-50,150 M80,50 l-35,90 M60,110 q30,-5 50,25"/>
<ellipse cx="-110.0" cy="15.0" rx="42.0" ry="20.0" transform="rotate(18.0 -110.0 15.0)" class="b"/>
<ellipse cx="10.0" cy="-5.0" rx="42.0" ry="20.0" transform="rotate(18.0 10.0 -5.0)" class="b"/>
<ellipse cx="115.0" cy="-25.0" rx="42.0" ry="20.0" transform="rotate(18.0 115.0 -25.0)" class="b"/>
<path class="k" d="M-120,18 l25,-12 M105,-22 l25,-12" style="stroke:#fff;stroke-width:1.2"/>
</g>
</g>
<!-- 35_dashes.svgf -->
<g>
<path class="da" d="M1643.0,388.0 L1379.7,1335.0" style="stroke-dasharray:24 13.5 8.5 13.5;stroke-dashoffset:0"/>
<path class="da" d="M1670.0,384.0 L1412.5,1345.0" style="stroke-dasharray:24 13.5 8.5 13.5;stroke-dashoffset:10"/>
<path class="da" d="M1681.0,410.0 L1495.8,1110.0" style="stroke-dasharray:24 13.5 8.5 13.5;stroke-dashoffset:25"/>
<path class="da" d="M1709.0,406.0 L1520.1,1120.0" style="stroke-dasharray:24 13.5 8.5 13.5;stroke-dashoffset:5"/>
</g>
<!-- 36_right3.svgf -->
<g>
<path d="M1496,782.5 L1479,788.5 Q1473,794 1477,802 Q1490,822 1525,831 Q1560,832 1598,827 Q1612,827 1625,832 L1673,845.5 Q1690,846 1719,838.5 L1754,836" fill="none" stroke="#000" stroke-width="4.2" stroke-linejoin="round" stroke-linecap="butt"/>
<path class="kf" d="M1756.6,855.9 L1915.6,888.4 A6.5,17.2 11.6 0 0 1922.4,854.6 L1763.4,822.1 A6.5,17.2 11.6 0 0 1756.6,855.9 Z"/>
<ellipse cx="1919.0" cy="871.5" rx="6.5" ry="17.2" transform="rotate(11.6 1919.0 871.5)" class="kf"/>
<path class="n" d="M1757,849 L1912,882"/>
<path class="kf" d="M1957,880 Q1960,871 1968,871 L2006,881 Q2014,890 2012,903 Q2008,914 1998,914 L1960,903 L1955,898 Z"/>
<ellipse cx="2004.0" cy="897.0" rx="6.5" ry="16.5" transform="rotate(12.0 2004.0 897.0)" class="mf"/>
<path class="m" d="M1957,880 L1962,893 L1998,903 M1962,893 L1955,898"/>
<path class="kf" d="M1496,1223 Q1502,1217 1514,1220 L1524,1228 Q1530,1218 1542,1219 L1552,1226 L1549,1250 Q1540,1256 1530,1252 L1508,1252 Q1496,1248 1494,1240 Z"/>
<path class="m" d="M1496,1223 Q1506,1232 1512,1232 L1510,1252 M1524,1228 Q1524,1238 1534,1240 Q1546,1238 1552,1226 M1512,1232 Q1518,1234 1524,1228"/>
</g>
<!-- 38_axis.svgf -->
<g>
<path class="da" d="M1078,1218.2 L1940,1714.2" style="stroke-dasharray:24 13.5 8.5 13.5"/>
<path class="da" d="M1076.5,1220.8 L1938.5,1716.8" style="stroke-dasharray:24 35.5;stroke-width:1.3"/>
</g>
<!-- 40_assy6.svgf -->
<g transform="translate(1430,860) scale(0.181597)">
<path class="kf" d="M450,255 L490,215 L560,160 Q640,140 720,150 L790,190 L960,370 L955,700 L940,1090 L905,1100 L830,1050 L600,1040 L590,450 Z"/>
<path class="m" d="M830,430 L945,378 M830,430 L800,700 L790,1040 M850,440 L820,700 L810,1045 M940,380 L925,1085 M560,160 L640,230 L790,240 L800,420 M720,150 L735,200 L790,240 M640,230 L560,330 L600,440 M490,215 L560,250 L545,330 M450,255 Q470,330 540,350 M800,240 L930,365"/>
<path class="m" d="M655,175 L740,168 L750,205 L665,210 Z M700,180 l30,25"/>
<path class="n" d="M560,250 Q520,300 470,330 M600,300 Q640,360 700,340 M650,420 Q700,520 770,430 M640,380 Q650,340 680,350"/>
<ellipse cx="655.0" cy="375.0" rx="14.0" ry="24.0" transform="rotate(20.0 655.0 375.0)" class="k"/>
<path class="m" d="M520,400 L590,380 M610,330 L780,400 M700,350 l60,10 l5,40"/>
<path class="m" d="M600,640 L820,740 M600,600 L780,690 M620,900 Q700,880 760,760 M640,870 Q690,850 740,770 M600,980 L700,1010"/>
<path class="m" d="M760,770 L790,790 L775,830 L745,815 M740,850 L770,870 L752,910 L722,892 M715,925 L745,945 L728,985 L698,965 M690,1000 L720,1015 L710,1040"/>
<ellipse cx="800.0" cy="745.0" rx="22.0" ry="26.0" transform="rotate(0.0 800.0 745.0)" class="kf"/>
<path class="b" d="M600,700 Q660,690 660,740 Q650,790 600,790 Z"/>
<path class="m" d="M640,560 L800,545 M740,560 Q760,610 740,650 M650,600 L740,600"/>
<path class="k" d="M895,560 L920,565 L880,630 Q860,630 870,600 Z"/>
<path class="k" d="M850,805 Q880,800 878,840 L865,910 Q840,960 795,955 Q775,935 800,890 Z"/>
<path class="b" d="M830,850 L812,930 L795,935 Z"/>
<ellipse cx="900.0" cy="490.0" rx="40.0" ry="52.0" transform="rotate(20.0 900.0 490.0)" class="kf"/>
<ellipse cx="905.0" cy="492.0" rx="26.0" ry="38.0" transform="rotate(20.0 905.0 492.0)" class="m"/>
<path class="n" d="M890,470 l25,50 M880,500 l45,-20"/>
<path class="kf" d="M580,1050 L640,1030 L780,1020 L900,1060 L940,1100 L905,1270 L830,1278 L822,1240 L770,1235 L722,1290 L650,1302 L520,1228 L560,1100 Z"/>
<path class="m" d="M600,1060 L720,1120 L935,1095 M720,1120 L710,1290 M620,1075 L610,1110 L680,1150 M540,1200 L660,1270 M560,1185 L680,1250 M840,1070 L890,1075 L880,1100"/>
<path class="k" d="M850,1075 l40,5"/>
<path class="kf" d="M125,310 Q135,265 190,248 L330,262 L560,440 L590,452 L600,620 L572,1060 L560,1150 L520,1205 L470,1228 L410,1237 L100,1052 Z"/>
<path class="n" d="M150,305 L440,497 L480,500 L560,440 M190,248 L215,290 L465,470 M440,497 L410,1235 M500,500 L470,1225 M140,330 L115,1045 M215,290 L190,330"/>
<path class="k" d="M125,310 L440,500 Q470,510 500,500 L590,452"/>
<path class="k" d="M330,262 L380,255 L430,300 M70,960 Q60,930 95,900"/>
<path class="k" d="M215,462 L345,540 Q370,560 360,590 L305,680 Q285,690 270,665 L205,480 Q200,462 215,462 Z"/>
<path class="n" d="M240,490 L268,478 L268,640 Z"/>
<path class="k" d="M160,560 Q185,555 195,585 L240,735 Q245,760 235,780 L180,870 Q160,880 150,850 L150,580 Z"/>
<path class="b" d="M170,640 L215,700 L172,690 Z M170,760 L220,760 L175,850 Z"/>
<path class="k" d="M380,685 Q405,690 405,720 L385,990 Q370,1010 355,985 L310,810 Q308,790 318,775 Z"/>
<path class="b" d="M335,745 L385,720 L378,800 L340,830 Z"/>
<path class="k" d="M250,880 Q275,875 285,900 L325,1050 Q325,1095 300,1090 L220,1045 Q200,1020 205,960 Z"/>
<path class="n" d="M232,1030 L240,935 L310,1030 Z"/>
<path class="b" d="M520,655 L570,650 Q585,670 570,695 L520,750 Q500,750 505,720 Z"/>
<path class="k" d="M545,775 L575,770 L572,860 L510,855 Z"/>
<path class="k" d="M510,940 L560,935 Q570,950 560,970 L510,1035 Q492,1030 495,1010 Z"/>
<path class="b" d="M520,965 L548,958 L515,1010 Z"/>
<ellipse cx="576.0" cy="544.0" rx="52.0" ry="60.0" transform="rotate(20.0 576.0 544.0)" class="kf"/>
<path class="b" d="M624.5,564.0 L590.5,597.7 L551.9,583.7 L547.5,536.0 L581.5,502.3 L620.1,516.3 Z"/>
<path class="kf" d="M600.1,550.9 L573.2,578.0 L543.1,567.1 L539.9,529.1 L566.8,502.0 L596.9,512.9 Z"/>
<path class="n" d="M552,526 l14,28 l30,-6"/>
<ellipse cx="559.0" cy="1146.0" rx="52.0" ry="60.0" transform="rotate(20.0 559.0 1146.0)" class="kf"/>
<path class="b" d="M607.5,1166.0 L573.5,1199.7 L534.9,1185.7 L530.5,1138.0 L564.5,1104.3 L603.1,1118.3 Z"/>
<path class="kf" d="M583.1,1152.9 L556.2,1180.0 L526.1,1169.1 L522.9,1131.1 L549.8,1104.0 L579.9,1114.9 Z"/>
<path class="n" d="M535,1128 l14,28 l30,-6"/>
<path class="k" d="M600,590 L600,640 M545,1100 L530,1060"/>
</g>
<!-- 41_column.svgf -->
<g>
<path d="M1491,1168 L1434.6,1275.8 L1410.6,1311.4 L1357.6,1375.5 L1175.4,1599 Q1135,1650 1125.4,1713 Q1120,1745 1127,1770 Q1135,1812 1118,1855 L1086,1923.6 L989,2102" fill="none" stroke="#000" stroke-width="42.50" stroke-linejoin="round" stroke-linecap="butt" />
<path d="M1491,1168 L1434.6,1275.8 L1410.6,1311.4 L1357.6,1375.5 L1175.4,1599 Q1135,1650 1125.4,1713 Q1120,1745 1127,1770 Q1135,1812 1118,1855 L1086,1923.6 L989,2102" fill="none" stroke="#fff" stroke-width="36.90" stroke-linejoin="round" stroke-linecap="butt" />
<path class="n" d="M1505,1177 L1449,1284 L1425,1320 L1372,1385 L1189,1609 Q1152,1657 1142,1716 Q1137,1745 1143,1768 Q1151,1812 1134,1860 L1101,1931 L1006,2106"/>
<path class="n" d="M1417,1268 Q1436,1272 1452,1284 M1397,1300 Q1414,1306 1425,1323 M1160,1588 Q1178,1592 1191,1611 M1108,1765 Q1127,1770 1146,1762 M1112,1790 Q1130,1797 1148,1786 M1089,1880 L1122,1896"/>
</g>
<!-- 42_coltop.svgf -->
<g transform="translate(1430,860) scale(0.181597)">
<path class="kf" d="M97.5,1366.0 L749.5,1749.0 A56.0,80.0 30.4 0 0 830.5,1611.0 L178.5,1228.0 A56.0,80.0 30.4 0 0 97.5,1366.0 Z"/>
<ellipse cx="790.0" cy="1680.0" rx="56.0" ry="80.0" transform="rotate(30.4 790.0 1680.0)" class="kf"/>
<ellipse cx="790.0" cy="1680.0" rx="43.7" ry="62.4" transform="rotate(30.4 790.0 1680.0)" class="m"/>
<path class="kf" d="M218,1392 L262,1388 L302,1500 L245,1668 Z"/>
<path class="n" d="M232,1400 L252,1640"/>
<path class="kf" d="M350,1540 L420,1520 L560,1562 L555,1700 L470,1740 L440,1768 L345,1702 L392,1602 Z"/>
<path class="m" d="M392,1602 L420,1520 M392,1602 L552,1695 M470,1740 L440,1700 L345,1702"/>
<ellipse cx="455.0" cy="1560.0" rx="30.0" ry="38.0" transform="rotate(0.0 455.0 1560.0)" class="m"/>
<ellipse cx="458.0" cy="1562.0" rx="20.0" ry="28.0" transform="rotate(0.0 458.0 1562.0)" class="n"/>
<path class="b" d="M480,1690 L520,1680 L535,1700 L500,1715 Z"/>
<path class="n" d="M440,1768 L380,1872 M452,1762 L392,1872"/>
<path class="k" d="M302,1500 L330,1508 L348,1448"/>
</g>
<!-- 43_lowerlines.svgf -->
<g>
<path class="da" d="M1490,1302 L1562,1062" style="stroke-dasharray:24 13.5 8.5 13.5"/>
<path class="da" d="M1519,1298 L1588,1075" style="stroke-dasharray:24 13.5 8.5 13.5;stroke-dashoffset:8"/>
</g>
<!-- 44_phantom.svgf -->
<g transform="translate(1330,1140) scale(0.145285)">
<path class="k" d="M470,360 Q435,430 440,500 Q500,560 620,562 L760,540 L830,420 Q820,340 740,325 Q690,325 650,350 Q600,340 560,352 Q500,340 470,360 M560,352 Q620,380 640,430 Q660,470 710,480 M650,350 Q700,330 740,370 Q760,400 830,420 M760,340 Q800,350 790,390 Q770,400 750,380 M500,350 Q520,340 540,360" style="stroke-dasharray:9 6;stroke-width:2.2"/>
<path class="k" d="M390,910 L420,905 L450,940 L440,1000 L410,1010 M350,960 L360,1000 M330,1040 L340,1080 L400,1090 L420,1040 M310,1130 L350,1140 L380,1110 M230,1250 L290,1240 L360,1260 L380,1290 L350,1330 L300,1340 L250,1310 Z M270,1270 L340,1300 M300,1240 L310,1330" style="stroke-dasharray:5 4;stroke-width:2"/>
<path class="k" d="M580,910 L640,915 L630,990 M600,1020 L610,1060 L560,1050 M520,1080 L600,1110 L580,1140 M500,1160 L520,1210 M440,1230 L500,1220 L580,1250 L590,1280 L560,1320 L490,1330 L450,1290 Z M470,1260 L560,1290 M520,1225 L530,1320" style="stroke-dasharray:5 4;stroke-width:2"/>
</g>
<!-- 50_midA.svgf -->
<g transform="translate(850,750) scale(0.393468)">
<path class="kf" d="M538.5,235.3 L567.5,275.3 A34.1,55.0 54.1 0 0 656.5,210.7 L627.5,170.7 A34.1,55.0 54.1 0 0 538.5,235.3 Z"/>
<ellipse cx="612.0" cy="243.0" rx="34.1" ry="55.0" transform="rotate(54.1 612.0 243.0)" class="kf"/>
<ellipse cx="612.0" cy="243.0" rx="24.6" ry="39.6" transform="rotate(54.1 612.0 243.0)" class="m"/>
<path class="n" d="M584.6,259.2 L588.0,230.1"/>
<path class="kf" d="M930.7,662.6 L958.7,700.6 A34.1,55.0 53.6 0 0 1047.3,635.4 L1019.3,597.4 A34.1,55.0 53.6 0 0 930.7,662.6 Z"/>
<ellipse cx="1003.0" cy="668.0" rx="34.1" ry="55.0" transform="rotate(53.6 1003.0 668.0)" class="kf"/>
<ellipse cx="1003.0" cy="668.0" rx="24.6" ry="39.6" transform="rotate(53.6 1003.0 668.0)" class="m"/>
<path class="n" d="M975.7,684.4 L978.9,655.3"/>
<path class="kf" d="M678.2,366.2 L859.2,583.2 A37.4,44.0 50.2 0 0 926.8,526.8 L745.8,309.8 A37.4,44.0 50.2 0 0 678.2,366.2 Z"/>
<ellipse cx="893.0" cy="555.0" rx="37.4" ry="44.0" transform="rotate(50.2 893.0 555.0)" class="kf"/>
<path class="n" d="M685,360 L862,575"/>
<path class="kf" d="M559.8,1175.7 L539.5,1192.0 L518.7,1182.3 L518.2,1156.3 L538.5,1140.0 L559.3,1149.7 Z"/>
<path class="b" d="M568.8,1181.7 L548.5,1198.0 L527.7,1188.3 L527.2,1162.3 L547.5,1146.0 L568.3,1155.7 Z"/>
<ellipse cx="553.0" cy="1174.0" rx="9.4" ry="13.5" transform="rotate(25.0 553.0 1174.0)" class="w"/>
<path class="kf" d="M712.5,1259.6 L694.5,1274.1 L676.0,1265.5 L675.5,1242.4 L693.5,1227.9 L712.0,1236.5 Z"/>
<path class="b" d="M721.5,1265.6 L703.5,1280.1 L685.0,1271.5 L684.5,1248.4 L702.5,1233.9 L721.0,1242.5 Z"/>
<ellipse cx="708.0" cy="1259.0" rx="8.4" ry="12.0" transform="rotate(25.0 708.0 1259.0)" class="w"/>
<path class="kf" d="M800,1262 L812,1245 L920,1300 L915,1320 L905,1330"/>
<path class="kf" d="M726.4,1331.3 L774.4,1368.3 A29.4,42.0 37.6 0 0 825.6,1301.7 L777.6,1264.7 A29.4,42.0 37.6 0 0 726.4,1331.3 Z"/>
<ellipse cx="800.0" cy="1335.0" rx="29.4" ry="42.0" transform="rotate(37.6 800.0 1335.0)" class="kf"/>
<path class="kf" d="M790,1290 Q830,1270 860,1290 L915,1320 Q930,1350 915,1380 Q890,1410 850,1395 L790,1370"/>
<ellipse cx="805.0" cy="1335.0" rx="22.0" ry="30.0" transform="rotate(30.0 805.0 1335.0)" class="m"/>
<ellipse cx="880.0" cy="1358.0" rx="16.0" ry="20.0" transform="rotate(30.0 880.0 1358.0)" class="m"/>
<path class="m" d="M825,1290 L860,1350 M845,1285 L880,1340 M800,1340 L870,1375 M812,1245 L820,1275 M860,1272 L870,1292"/>
</g>
<!-- 51_midB.svgf -->
<g transform="translate(1400,1300) scale(0.420698)">
<path class="kf" d="M200.5,12.8 L173.9,125.6 L199.2,131.5 L225.8,18.8 Q215.9,4.1 200.5,12.8 Z"/>
<path class="n" d="M210.9,12.2 L183.7,127.8"/>
<ellipse cx="186.1" cy="130.5" rx="7.0" ry="28.0" transform="rotate(103.3 186.1 130.5)" class="kf"/>
<path class="kf" d="M170.7,141.2 L180.4,127.5 L192.6,130.4 L195.2,147.0 L185.5,160.7 L173.2,157.8 Z"/>
<ellipse cx="182.5" cy="146.1" rx="5.0" ry="10.0" transform="rotate(103.3 182.5 146.1)" class="m"/>
<path class="kf" d="M268.4,7.6 L242.2,112.4 L267.5,118.8 L293.7,13.9 Q284.0,-0.9 268.4,7.6 Z"/>
<path class="n" d="M278.9,7.1 L251.9,114.9"/>
<ellipse cx="254.4" cy="117.5" rx="7.0" ry="28.0" transform="rotate(104.0 254.4 117.5)" class="kf"/>
<path class="kf" d="M238.7,128.1 L248.6,114.5 L260.9,117.5 L263.2,134.2 L253.3,147.8 L241.1,144.7 Z"/>
<ellipse cx="250.5" cy="133.1" rx="5.0" ry="10.0" transform="rotate(104.0 250.5 133.1)" class="m"/>
<path class="kf" d="M140.1,350.8 L236.1,405.8 A9.6,24.0 29.8 0 0 259.9,364.2 L163.9,309.2 A9.6,24.0 29.8 0 0 140.1,350.8 Z"/>
<ellipse cx="248.0" cy="385.0" rx="9.6" ry="24.0" transform="rotate(29.8 248.0 385.0)" class="kf"/>
<ellipse cx="248.0" cy="385.0" rx="5.8" ry="14.4" transform="rotate(29.8 248.0 385.0)" class="m"/>
<path class="n" d="M150,318 L245,372"/>
<path class="kf" d="M433.3,527.9 L533.3,583.9 A10.8,24.0 29.2 0 0 556.7,542.1 L456.7,486.1 A10.8,24.0 29.2 0 0 433.3,527.9 Z"/>
<ellipse cx="545.0" cy="563.0" rx="10.8" ry="24.0" transform="rotate(29.2 545.0 563.0)" class="kf"/>
<ellipse cx="545.0" cy="563.0" rx="5.9" ry="13.2" transform="rotate(29.2 545.0 563.0)" class="m"/>
<path class="kf" d="M535.2,573.6 L620.2,618.6 A9.5,21.0 27.9 0 0 639.8,581.4 L554.8,536.4 A9.5,21.0 27.9 0 0 535.2,573.6 Z"/>
<ellipse cx="630.0" cy="600.0" rx="9.5" ry="21.0" transform="rotate(27.9 630.0 600.0)" class="kf"/>
<ellipse cx="630.0" cy="600.0" rx="5.2" ry="11.6" transform="rotate(27.9 630.0 600.0)" class="m"/>
<path class="n" d="M530,530 Q550,525 560,545 M455,495 L545,545 M560,548 L625,584"/>
<path class="kf" d="M790,650 L802,633 L900,685 L895,705"/>
<path class="kf" d="M745,700 Q740,670 775,655 Q800,650 830,670 L910,712 Q935,740 925,770 Q905,805 870,795 L760,735 Q742,720 745,700 Z"/>
<ellipse cx="858.0" cy="738.0" rx="52.0" ry="38.0" transform="rotate(25.0 858.0 738.0)" class="m"/>
<path class="m" d="M835,705 L905,740 M820,735 L885,770 M845,700 L835,725 L880,750 M802,633 L812,660 M870,668 L878,690"/>
<ellipse cx="905.0" cy="752.0" rx="12.0" ry="16.0" transform="rotate(20.0 905.0 752.0)" class="m"/>
<ellipse cx="815.0" cy="718.0" rx="10.0" ry="14.0" transform="rotate(20.0 815.0 718.0)" class="n"/>
<path class="kf" d="M1043.6,862.9 L1195.6,947.9 A3.6,9.0 29.2 0 0 1204.4,932.1 L1052.4,847.1 A3.6,9.0 29.2 0 0 1043.6,862.9 Z"/>
<ellipse cx="1200.0" cy="940.0" rx="3.6" ry="9.0" transform="rotate(29.2 1200.0 940.0)" class="mf"/>
<path class="k" d="M1135,885 L1225,935" style="stroke-width:4"/>
<path class="kf" d="M1231.4,972.1 L1296.4,1005.1 A3.2,8.0 26.9 0 0 1303.6,990.9 L1238.6,957.9 A3.2,8.0 26.9 0 0 1231.4,972.1 Z"/>
<ellipse cx="1300.0" cy="998.0" rx="3.2" ry="8.0" transform="rotate(26.9 1300.0 998.0)" class="mf"/>
<path class="kf" d="M1237.8,964.1 L1218.6,979.0 L1202.9,970.0 L1206.2,945.9 L1225.4,931.0 L1241.1,940.0 Z"/>
<ellipse cx="1228.0" cy="958.0" rx="10.0" ry="16.0" transform="rotate(30.0 1228.0 958.0)" class="m"/>
<path class="kf" d="M1320.6,1006.0 L1302.4,1019.5 L1286.8,1010.5 L1289.4,988.0 L1307.6,974.5 L1323.2,983.5 Z"/>
<ellipse cx="1310.0" cy="999.0" rx="9.0" ry="14.0" transform="rotate(30.0 1310.0 999.0)" class="m"/>
<path class="kf" d="M829.9,94.4 L875.9,106.4 A24.0,48.0 14.6 0 0 900.1,13.6 L854.1,1.6 A24.0,48.0 14.6 0 0 829.9,94.4 Z"/>
<ellipse cx="888.0" cy="60.0" rx="24.0" ry="48.0" transform="rotate(14.6 888.0 60.0)" class="kf"/>
<ellipse cx="888.0" cy="60.0" rx="17.3" ry="34.6" transform="rotate(14.6 888.0 60.0)" class="m"/>
<path class="n" d="M878.1,86.0 L868.7,65.7"/>
<path class="kf" d="M991.4,136.4 L1340.4,234.4 A19.4,43.0 15.7 0 0 1363.6,151.6 L1014.6,53.6 A19.4,43.0 15.7 0 0 991.4,136.4 Z"/>
<ellipse cx="1352.0" cy="193.0" rx="19.4" ry="43.0" transform="rotate(15.7 1352.0 193.0)" class="kf"/>
<path class="n" d="M985,120 L1335,220"/>
<path class="kf" d="M1443.6,268.6 L1488.6,279.6 A24.0,48.0 13.7 0 0 1511.4,186.4 L1466.4,175.4 A24.0,48.0 13.7 0 0 1443.6,268.6 Z"/>
<ellipse cx="1500.0" cy="233.0" rx="24.0" ry="48.0" transform="rotate(13.7 1500.0 233.0)" class="kf"/>
<ellipse cx="1500.0" cy="233.0" rx="17.3" ry="34.6" transform="rotate(13.7 1500.0 233.0)" class="m"/>
<path class="n" d="M1490.5,259.1 L1480.8,239.0"/>
</g>
<!-- 52_p46.svgf -->
<g transform="translate(820,1340) scale(0.205812)">
<path class="kf" d="M520,125 L1040,155 Q1080,160 1120,180 L1505,400 L1490,470 L1465,480 L880,395 Q800,375 680,305 L700,255 L690,268 L590,260 L495,195 Z"/>
<path class="m" d="M520,125 L545,150 L620,200 L700,210 L760,230 L800,255 L700,255 L760,285 Q830,320 900,340 L1480,410 L1505,400"/>
<path class="n" d="M545,150 L530,215 M620,200 L610,260 M700,210 L690,268 M760,285 L745,345 M900,340 L880,395 M1480,410 L1465,480 M740,230 L705,245"/>
<path class="k" d="M700,255 L740,225 L800,255"/>
<ellipse cx="985.0" cy="258.0" rx="112.0" ry="28.0" transform="rotate(18.0 985.0 258.0)" class="m"/>
<path class="k" d="M1000,305 Q985,260 1040,232 Q1090,215 1150,238 L1200,270 Q1230,295 1260,290 L1330,312" style="stroke-width:3.2"/>
<ellipse cx="1130.0" cy="272.0" rx="40.0" ry="12.0" transform="rotate(18.0 1130.0 272.0)" class="m"/>
<ellipse cx="1015.0" cy="322.0" rx="30.0" ry="10.0" transform="rotate(15.0 1015.0 322.0)" class="m"/>
<path class="b" d="M1290,285 L1330,300 L1325,320 Z"/>
</g>
<!-- 53_p33.svgf -->
<g transform="translate(820,1590) scale(0.145285)">
<path class="kf" d="M70,1090 L200,960 L300,880 L560,790 L570,740 L710,700 L725,725 Q830,700 900,715 Q960,725 1000,745 L1320,950 Q1360,990 1350,1060 L1190,1230 Q1150,1270 1100,1290 L850,1360 L560,1450 Q500,1450 470,1430 L380,1370 L380,1320 L270,1240 L190,1260 L75,1180 Z"/>
<path class="m" d="M95,1180 L190,1235 L270,1215 L400,1300 L400,1345 L480,1400 Q520,1420 560,1420 L850,1335 L1090,1265 Q1150,1240 1180,1205 L1330,1050"/>
<path class="m" d="M290,1130 Q300,1050 420,970 L760,800 L960,905 Q1060,940 1070,1010 Q1050,1100 880,1200 Q700,1290 500,1290 Q330,1270 290,1130 Z"/>
<path class="n" d="M305,1135 Q315,1060 430,985 L755,822 L950,925 Q1040,955 1048,1010 Q1030,1090 870,1185 Q700,1270 505,1270 Q345,1255 305,1135 Z"/>
<path class="k" d="M760,797 L962,902 L1135,832 M1000,745 L1140,830 M800,850 L575,1055 M932,930 L805,1108" style="stroke-width:4"/>
<path class="m" d="M725,725 L760,797 M1140,830 L1320,950"/>
<path class="kf" d="M570,740 L710,700 L722,775 L600,812 L590,830 L545,815 L572,795 Z"/>
<path class="m" d="M600,812 L595,760 L715,725"/>
<path class="kf" d="M200,960 L300,885 L320,985 L260,1040 L235,1060 L175,1050 L215,1010 Z"/>
<path class="m" d="M260,1040 L250,960 L300,905"/>
<path class="kf" d="M1140,1000 Q1160,980 1215,985 L1235,1010 L1225,1060 L1160,1145 L1105,1140 L1120,1100 Z"/>
<path class="m" d="M1160,1145 L1165,1050 L1225,1010 M1230,1080 L1260,1090 L1175,1160"/>
<path class="kf" d="M715,1235 L850,1195 L862,1300 L730,1340 L700,1320 Z"/>
<path class="m" d="M730,1340 L728,1262 L855,1225"/>
<path class="b" d="M730,1340 L862,1300 L865,1320 L735,1362 Z"/>
<path class="k" d="M95,1180 L180,1225"/>
</g>
<!-- 54_base.svgf -->
<g transform="translate(940,1930) scale(0.217912)">
<path class="m" d="M690,375 L640,450 M820,450 L770,525 M730,580 L710,612 M300,970 L250,1060 M500,930 L445,1025 M405,1080 L390,1112 M345,880 L335,910"/>
<path class="k" d="M440,740 L405,812 M470,755 L430,825 M540,790 L480,890 M570,805 L510,905 M600,800 L560,920 M625,812 L585,930"/>
<path class="kf" d="M335,815 L570,950 L562,968 L325,832 Z"/>
<path class="n" d="M345,832 L555,955"/>
<path class="kf" d="M100,755 L325,872 L318,890 L285,905 L110,812 L112,790 L95,772 Z"/>
<path class="m" d="M112,790 L290,885 L285,905 M290,885 L318,890"/>
<path class="kf" d="M180,538 L500,722 L490,742 L170,560 Z"/>
<path class="kf" d="M560,370 Q600,450 620,540 Q640,620 680,700 L740,830 Q720,865 690,858 L600,790 L430,630 Z"/>
<path class="k" d="M545,500 L582,672 Q560,680 540,660 L488,612 Q480,600 490,585 Z"/>
<path class="n" d="M548,545 L560,650 L510,610 Z"/>
<path class="n" d="M430,630 L700,850"/>
<path class="kf" d="M163,1083 l55,-50 l70,35 l10,45 l-45,50 l-80,-40 Z"/>
<path class="m" d="M228,1068 l0,60 M286,1070 l-52,48"/>
<path class="k" d="M168,1113 l80,40 l45,-50" style="stroke-width:3.4"/>
<path class="kf" d="M290,1157 l55,-50 l70,35 l10,45 l-45,50 l-80,-40 Z"/>
<path class="m" d="M355,1142 l0,60 M413,1144 l-52,48"/>
<path class="k" d="M295,1187 l80,40 l45,-50" style="stroke-width:3.4"/>
<path class="kf" d="M800.6,137.1 L680.8,328.7 L681.3,343.2 L728.7,372.8 L741.9,366.9 L861.7,175.2 Z"/>
<path class="n" d="M822.0,150.4 L702.2,342.1"/>
<path class="kf" d="M795,123 l28,-42 l55,22 l38,28 l-22,48 l-62,-12 Z"/>
<path class="m" d="M877,103 l-20,42 M823,80 l-25,40"/>
<path class="kf" d="M926.1,212.4 L813.1,403.3 L813.9,417.7 L862.1,446.3 L875.1,440.0 L988.1,249.1 Z"/>
<path class="n" d="M947.8,225.2 L834.8,416.2"/>
<path class="kf" d="M920,197 l28,-42 l55,22 l38,28 l-22,48 l-62,-12 Z"/>
<path class="m" d="M1002,177 l-20,42 M948,154 l-25,40"/>
</g>
<!-- 60_tierods.svgf -->
<g>
<path class="kf" d="M278.4,1757.5 L764.9,1963.9 A5.3,11.8 23.0 0 0 774.1,1942.1 L287.6,1735.7 A5.3,11.8 23.0 0 0 278.4,1757.5 Z"/>
<ellipse cx="769.5" cy="1953.0" rx="5.3" ry="11.8" transform="rotate(23.0 769.5 1953.0)" class="kf"/>
<ellipse cx="769.5" cy="1953.0" rx="2.7" ry="5.9" transform="rotate(23.0 769.5 1953.0)" class="m"/>
<path class="n" d="M277.7,1751.4 L769.7,1960.1"/>
<path class="n" d="M365.6,1788.7 l3.3,-7.8 l5.5,2.3 l-3.3,7.8"/>
<path class="kf" d="M1251.1,2241.6 L1707.3,2578.6 A5.6,12.4 36.5 0 0 1722.1,2558.6 L1265.9,2221.6 A5.6,12.4 36.5 0 0 1251.1,2241.6 Z"/>
<ellipse cx="1714.7" cy="2568.6" rx="5.6" ry="12.4" transform="rotate(36.5 1714.7 2568.6)" class="kf"/>
<ellipse cx="1714.7" cy="2568.6" rx="2.8" ry="6.2" transform="rotate(36.5 1714.7 2568.6)" class="m"/>
<path class="n" d="M1252.0,2235.3 L1713.1,2575.9"/>
<path class="n" d="M1633.1,2516.8 l5.3,-7.1 l4.8,3.6 l-5.3,7.1"/>
<path class="ph" d="M321.9,1674.8 L803.9,1879.3"/>
<path class="ph" d="M318.4,1683.1 L800.4,1887.6"/>
<path class="ph" d="M315.3,1690.4 L797.3,1894.9"/>
<path class="ph" d="M1311.0,2144.0 L1776.0,2492.0"/>
<path class="ph" d="M1305.6,2151.2 L1770.6,2499.2"/>
<path class="ph" d="M1300.8,2157.6 L1765.8,2505.6"/>
<g transform="translate(300.0,1672.0) rotate(23.0)"><path class="ph" style="stroke-dasharray:5 3;stroke-width:1.8" d="M-20,-10 Q-24,0 -18,10 L-4,14 Q8,10 10,0 Q8,-10 -4,-14 Z M-16,-6 L-4,-8 L4,0 L-4,8 L-14,6 M-10,-14 L-6,-6 M-10,14 L-6,6 M12,-4 L22,-6 M12,5 L22,8 M2,-12 L8,-16 M2,12 L8,16"/></g>
<g transform="translate(815.0,1900.0) rotate(203.0)"><path class="ph" style="stroke-dasharray:5 3;stroke-width:1.8" d="M-20,-10 Q-24,0 -18,10 L-4,14 Q8,10 10,0 Q8,-10 -4,-14 Z M-16,-6 L-4,-8 L4,0 L-4,8 L-14,6 M-10,-14 L-6,-6 M-10,14 L-6,6 M12,-4 L22,-6 M12,5 L22,8 M2,-12 L8,-16 M2,12 L8,16"/></g>
<g transform="translate(1288.0,2140.0) rotate(37.0)"><path class="ph" style="stroke-dasharray:5 3;stroke-width:1.8" d="M-20,-10 Q-24,0 -18,10 L-4,14 Q8,10 10,0 Q8,-10 -4,-14 Z M-16,-6 L-4,-8 L4,0 L-4,8 L-14,6 M-10,-14 L-6,-6 M-10,14 L-6,6 M12,-4 L22,-6 M12,5 L22,8 M2,-12 L8,-16 M2,12 L8,16"/></g>
<g transform="translate(1790.0,2512.0) rotate(217.0)"><path class="ph" style="stroke-dasharray:5 3;stroke-width:1.8" d="M-20,-10 Q-24,0 -18,10 L-4,14 Q8,10 10,0 Q8,-10 -4,-14 Z M-16,-6 L-4,-8 L4,0 L-4,8 L-14,6 M-10,-14 L-6,-6 M-10,14 L-6,6 M12,-4 L22,-6 M12,5 L22,8 M2,-12 L8,-16 M2,12 L8,16"/></g>
<path class="ph" d="M402,1718 l10,-2 l3,8 M1672,2432 l9,0 l2,8"/>
<path class="da" d="M180,1594 L135.6,1836" style="stroke-dasharray:24 13.5 8.5 13.5"/>
<path class="m" d="M231,1723 L238,1726 M256,1733 L261,1735 M271,1740 L283,1745.5 M134,1840 L134,1846"/>
<path class="kf" d="M185.5,1518.6 L172.9,1590.8 Q179.3,1595.9 187.1,1593.2 L199.7,1521.1 Z"/>
<path class="n" d="M190.7,1519.5 L178.0,1591.7"/>
<path class="kf" d="M180.0,1511.0 l4,-7 l14,-2 l10,4 l1,10 l-6,6 l-16,1 l-8,-5 Z"/>
<path class="n" d="M181.0,1512.0 l8,5 l16,-1 l5,-6 M189.0,1517.0 l0,7"/>
<path class="kf" d="M1889.7,2477.4 L1867.7,2544.8 Q1873.3,2550.8 1881.3,2549.2 L1903.4,2481.8 Z"/>
<path class="n" d="M1894.6,2479.0 L1872.6,2546.4"/>
<path class="kf" d="M1885.0,2471.0 l4,-7 l14,-2 l10,4 l1,10 l-6,6 l-16,1 l-8,-5 Z"/>
<path class="n" d="M1886.0,2472.0 l8,5 l16,-1 l5,-6 M1894.0,2477.0 l0,7"/>
<ellipse cx="177.0" cy="1615.5" rx="16.0" ry="6.0" transform="rotate(8.0 177.0 1615.5)" class="kf"/>
<ellipse cx="177.0" cy="1615.5" rx="9.0" ry="3.0" transform="rotate(8.0 177.0 1615.5)" class="b"/>
<ellipse cx="140.0" cy="1819.0" rx="16.0" ry="6.0" transform="rotate(8.0 140.0 1819.0)" class="kf"/>
<ellipse cx="140.0" cy="1819.0" rx="9.0" ry="3.0" transform="rotate(8.0 140.0 1819.0)" class="b"/>
<ellipse cx="1858.5" cy="2572.5" rx="16.0" ry="6.0" transform="rotate(8.0 1858.5 2572.5)" class="kf"/>
<ellipse cx="1858.5" cy="2572.5" rx="9.0" ry="3.0" transform="rotate(8.0 1858.5 2572.5)" class="b"/>
<ellipse cx="1780.0" cy="2776.0" rx="16.0" ry="6.0" transform="rotate(8.0 1780.0 2776.0)" class="kf"/>
<ellipse cx="1780.0" cy="2776.0" rx="9.0" ry="3.0" transform="rotate(8.0 1780.0 2776.0)" class="b"/>
<path class="kf" d="M120.7,1843.5 l8,-7 l13,1 l7,7 l0,11 l-8,6 l-13,-2 l-7,-7 Z"/>
<path class="m" d="M120.7,1843.5 l7,6 l13,2 l8,-6 M140.7,1851.5 l0,10"/>
<path class="kf" d="M1750.5,2810.0 l8,-7 l13,1 l7,7 l0,11 l-8,6 l-13,-2 l-7,-7 Z"/>
<path class="m" d="M1750.5,2810.0 l7,6 l13,2 l8,-6 M1770.5,2818.0 l0,10"/>
<path class="kf" d="M252.3,1729.8 L244.4,1737.7 L236.7,1734.4 L236.9,1723.2 L244.8,1715.3 L252.5,1718.6 Z"/>
<path class="kf" d="M256.3,1731.8 L248.4,1739.7 L240.7,1736.4 L240.9,1725.2 L248.8,1717.3 L256.5,1720.6 Z"/>
<ellipse cx="248.6" cy="1728.5" rx="5.0" ry="8.0" transform="rotate(23.0 248.6 1728.5)" class="b"/>
<ellipse cx="249.6" cy="1729.0" rx="2.5" ry="5.0" transform="rotate(23.0 249.6 1729.0)" class="w"/>
<path class="kf" d="M1760.0,2598.1 L1750.4,2603.8 L1743.7,2598.8 L1746.6,2587.9 L1756.2,2582.2 L1762.9,2587.2 Z"/>
<path class="kf" d="M1764.0,2600.1 L1754.4,2605.8 L1747.7,2600.8 L1750.6,2589.9 L1760.2,2584.2 L1766.9,2589.2 Z"/>
<ellipse cx="1757.3" cy="2595.0" rx="5.0" ry="8.0" transform="rotate(37.0 1757.3 2595.0)" class="b"/>
<ellipse cx="1758.3" cy="2595.5" rx="2.5" ry="5.0" transform="rotate(37.0 1758.3 2595.5)" class="w"/>
<path class="kf" d="M817.7,1972.3 L809.8,1980.2 L802.1,1976.9 L802.3,1965.7 L810.2,1957.8 L817.9,1961.1 Z"/>
<path class="kf" d="M821.7,1974.3 L813.8,1982.2 L806.1,1978.9 L806.3,1967.7 L814.2,1959.8 L821.9,1963.1 Z"/>
<ellipse cx="814.0" cy="1971.0" rx="5.0" ry="8.0" transform="rotate(23.0 814.0 1971.0)" class="b"/>
<ellipse cx="815.0" cy="1971.5" rx="2.5" ry="5.0" transform="rotate(23.0 815.0 1971.5)" class="w"/>
<path class="kf" d="M1235.7,2216.1 L1226.1,2221.8 L1219.4,2216.8 L1222.3,2205.9 L1231.9,2200.2 L1238.6,2205.2 Z"/>
<path class="kf" d="M1239.7,2218.1 L1230.1,2223.8 L1223.4,2218.8 L1226.3,2207.9 L1235.9,2202.2 L1242.6,2207.2 Z"/>
<ellipse cx="1233.0" cy="2213.0" rx="5.0" ry="8.0" transform="rotate(37.0 1233.0 2213.0)" class="b"/>
<ellipse cx="1234.0" cy="2213.5" rx="2.5" ry="5.0" transform="rotate(37.0 1234.0 2213.5)" class="w"/>
<ellipse cx="163.0" cy="1677.0" rx="12.0" ry="7.0" transform="rotate(12.0 163.0 1677.0)" class="b"/>
<ellipse cx="158.0" cy="1705.5" rx="12.0" ry="6.5" transform="rotate(12.0 158.0 1705.5)" class="b"/>
<path class="kf" d="M170.2,1702.4 L214.9,1722.3 A3.1,6.3 23.9 0 0 220.1,1710.7 L175.4,1690.9 A3.1,6.3 23.9 0 0 170.2,1702.4 Z"/>
<ellipse cx="217.5" cy="1716.5" rx="3.1" ry="6.3" transform="rotate(23.9 217.5 1716.5)" class="kf"/>
<path class="n" d="M175.4,1700.6 L216.5,1718.8"/>
<path class="kf" d="M147.9,1676.3 L152.8,1675.2 L178.4,1686.6 L179.5,1691.4 L173.4,1705.2 L169.0,1707.6 L143.5,1696.2 L141.0,1691.9 Z"/>
<path class="m" d="M167.4,1681.7 L154.4,1701.1 M176.6,1688.0 L167.1,1704.5"/>
<path d="M154.0,1678.0 l9,2 M153.0,1702.0 l8,2" stroke="#fff" stroke-width="1.3" fill="none"/>
<ellipse cx="1833.5" cy="2636.0" rx="12.0" ry="7.0" transform="rotate(12.0 1833.5 2636.0)" class="b"/>
<ellipse cx="1828.5" cy="2664.5" rx="12.0" ry="6.5" transform="rotate(12.0 1828.5 2664.5)" class="b"/>
<path class="kf" d="M1822.5,2636.9 L1779.5,2607.8 A3.1,6.3 -145.8 0 0 1772.5,2618.2 L1815.4,2647.3 A3.1,6.3 -145.8 0 0 1822.5,2636.9 Z"/>
<ellipse cx="1776.0" cy="2613.0" rx="3.1" ry="6.3" transform="rotate(-145.8 1776.0 2613.0)" class="kf"/>
<path class="n" d="M1814.2,2642.0 L1774.6,2615.1"/>
<path class="kf" d="M1849.3,2652.5 L1847.7,2647.8 L1824.5,2632.1 L1819.8,2633.7 L1811.4,2646.1 L1811.6,2651.1 L1834.8,2666.8 L1839.8,2666.6 Z"/>
<path class="m" d="M1834.5,2638.8 L1824.9,2660.1 M1824.3,2634.3 L1815.2,2651.1"/>
<path d="M1824.5,2637.0 l9,2 M1823.5,2661.0 l8,2" stroke="#fff" stroke-width="1.3" fill="none"/>
<path class="kf" d="M885.7,1997.9 L844.5,1981.0 A2.9,6.5 -157.7 0 0 839.5,1993.0 L880.7,2009.9 A2.9,6.5 -157.7 0 0 885.7,1997.9 Z"/>
<ellipse cx="842.0" cy="1987.0" rx="2.9" ry="6.5" transform="rotate(-157.7 842.0 1987.0)" class="kf"/>
<path class="n" d="M882.1,2001.3 L842.8,1985.1"/>
<path class="b" d="M894.5,2023.7 l-13.0,-5.3 l1.9,-4.6 l13.0,5.3 Z"/>
<path class="b" d="M903.6,2001.5 l-13.0,-5.3 l1.9,-4.6 l13.0,5.3 Z"/>
<path class="kf" d="M902.0,2021.4 L884.6,2016.4 L877.0,2008.4 L882.0,1996.4 L892.9,1996.0 L908.8,2004.7 Z"/>
<path class="m" d="M893.1,2016.6 L899.2,2001.8"/>
<path class="kf" d="M1150.0,2162.7 L1202.1,2201.2 A2.9,6.5 36.4 0 0 1209.9,2190.8 L1157.7,2152.3 A2.9,6.5 36.4 0 0 1150.0,2162.7 Z"/>
<ellipse cx="1206.0" cy="2196.0" rx="2.9" ry="6.5" transform="rotate(36.4 1206.0 2196.0)" class="kf"/>
<path class="n" d="M1154.3,2160.3 L1204.8,2197.6"/>
<path class="b" d="M1147.7,2135.5 l11.3,8.3 l-3.0,4.0 l-11.3,-8.3 Z"/>
<path class="b" d="M1133.5,2154.9 l11.3,8.3 l-3.0,4.0 l-11.3,-8.3 Z"/>
<path class="kf" d="M1139.9,2136.0 L1155.6,2145.1 L1160.9,2154.7 L1153.2,2165.1 L1142.5,2162.8 L1129.2,2150.5 Z"/>
<path class="m" d="M1147.4,2142.8 L1137.9,2155.6"/>
<path class="m" d="M793,1961 L802,1965 M822,1974 L842,1983 M1209,2197 L1221,2205 M1240,2219 L1252,2227 M1722,2573 L1742,2585 M1764,2601 L1774,2609"/>
<path class="da" d="M1871.8,2549.7 L1785,2764" style="stroke-dasharray:24 13.5 8.5 13.5"/>
<path class="m" d="M1770,2792 L1767,2800"/>
</g>
<!-- 61_lowA.svgf -->
<g transform="translate(650,2090) scale(0.278451)">
<path class="m" d="M125,150 L195,180 M290,240 L370,280"/>
<path class="da" d="M690,410 L1220,680" style="stroke-dasharray:24 13.5 8.5 13.5"/>
<path class="m" d="M760,455 L870,510 M990,575 L1060,610"/>
<ellipse cx="88.0" cy="130.0" rx="40.0" ry="42.0" transform="rotate(0.0 88.0 130.0)" class="b"/>
<path class="k" d="M68,122 q15,-15 30,-5 M78,110 l20,25 M73,142 q10,10 25,5" style="stroke:#fff;stroke-width:1.3"/>
<ellipse cx="252.0" cy="225.0" rx="40.0" ry="42.0" transform="rotate(0.0 252.0 225.0)" class="b"/>
<path class="k" d="M232,217 q15,-15 30,-5 M242,205 l20,25 M237,237 q10,10 25,5" style="stroke:#fff;stroke-width:1.3"/>
<path class="kf" d="M440.7,232.3 L651.2,346.8 A60,60 0 0 1 593.9,452.2 L383.3,337.7 A60,60 0 0 1 440.7,232.3 Z"/>
<path class="m" d="M434.0,244.6 L605.0,337.6 A46,46 0 0 1 561.0,418.4 L390.0,325.4 A46,46 0 0 1 434.0,244.6 Z"/>
<path class="n" d="M620.5,330.1 A60,60 0 0 1 563.1,435.5"/>
<ellipse cx="412.0" cy="285.0" rx="26.0" ry="28.0" transform="rotate(0.0 412.0 285.0)" class="m"/>
<ellipse cx="412.0" cy="285.0" rx="15.0" ry="17.0" transform="rotate(0.0 412.0 285.0)" class="m"/>
<ellipse cx="583.0" cy="378.0" rx="26.0" ry="28.0" transform="rotate(0.0 583.0 378.0)" class="m"/>
<ellipse cx="583.0" cy="378.0" rx="15.0" ry="17.0" transform="rotate(0.0 583.0 378.0)" class="m"/>
<path class="m" d="M461.5,277.8 L571.0,337.3 L559.0,359.3 L449.5,299.7 Z"/>
<path class="m" d="M426.4,321.3 L544.7,385.6"/>
<path class="kf" d="M1302.5,636.7 L1507.5,742.3 A60,60 0 0 1 1452.5,848.9 L1247.5,743.3 A60,60 0 0 1 1302.5,636.7 Z"/>
<path class="m" d="M1296.1,649.1 L1461.1,734.1 A46,46 0 0 1 1418.9,815.9 L1253.9,730.9 A46,46 0 0 1 1296.1,649.1 Z"/>
<path class="n" d="M1476.4,726.2 A60,60 0 0 1 1421.4,832.9"/>
<ellipse cx="1275.0" cy="690.0" rx="26.0" ry="28.0" transform="rotate(0.0 1275.0 690.0)" class="m"/>
<ellipse cx="1275.0" cy="690.0" rx="15.0" ry="17.0" transform="rotate(0.0 1275.0 690.0)" class="b"/>
<ellipse cx="1440.0" cy="775.0" rx="26.0" ry="28.0" transform="rotate(0.0 1440.0 775.0)" class="m"/>
<ellipse cx="1440.0" cy="775.0" rx="15.0" ry="17.0" transform="rotate(0.0 1440.0 775.0)" class="b"/>
<path class="m" d="M1324.3,681.6 L1427.1,734.6 L1415.6,756.8 L1312.8,703.9 Z"/>
<path class="m" d="M1290.2,726.0 L1401.9,783.5"/>
<path class="kf" d="M920,435 L1095,525 L1077,565 L902,475 Z"/>
<path class="m" d="M911,455 L1086,545"/>
<path class="kf" d="M865,530 L1045,625 L1027,665 L847,570 Z"/>
<path class="m" d="M856,550 L1036,645"/>
</g>
<!-- 62_lowB.svgf -->
<g transform="translate(1060,2280) scale(0.242131)">
<path class="m" d="M80,150 L145,180 M560,375 L605,395 M620,425 L655,440 M710,462 L795,502 M740,462 L770,476 M940,552 L1010,586 M940,575 L1000,602"/>
<path class="kf" d="M218.8,176.9 L358.8,238.9 A34,20 0 0 1 331.2,301.1 L191.2,239.1 A34,34 0 0 1 218.8,176.9 Z"/>
<ellipse cx="205.0" cy="208.0" rx="16.0" ry="18.0" transform="rotate(0.0 205.0 208.0)" class="m"/>
<ellipse cx="205.0" cy="208.0" rx="8.0" ry="9.0" transform="rotate(0.0 205.0 208.0)" class="n"/>
<path class="n" d="M201.0,217.1 L341.0,279.1 M226.5,208.8 L348.2,262.7"/>
<path class="kf" d="M403.4,293.7 L543.4,353.7 A34,20 0 0 1 516.6,416.3 L376.6,356.3 A34,34 0 0 1 403.4,293.7 Z"/>
<ellipse cx="390.0" cy="325.0" rx="16.0" ry="18.0" transform="rotate(0.0 390.0 325.0)" class="m"/>
<ellipse cx="390.0" cy="325.0" rx="8.0" ry="9.0" transform="rotate(0.0 390.0 325.0)" class="n"/>
<path class="n" d="M386.1,334.2 L526.1,394.2 M411.5,325.5 L533.2,377.6"/>
<path class="k" d="M250,250 L340,290 M440,310 L470,322"/>
<path class="kf" d="M1037.8,607.2 L1257.8,698.2 A5.5,11.0 22.5 0 0 1266.2,677.8 L1046.2,586.8 A5.5,11.0 22.5 0 0 1037.8,607.2 Z"/>
<ellipse cx="1262.0" cy="688.0" rx="5.5" ry="11.0" transform="rotate(22.5 1262.0 688.0)" class="mf"/>
<ellipse cx="1270.0" cy="690.0" rx="28.0" ry="32.0" transform="rotate(0.0 1270.0 690.0)" class="kf"/>
<ellipse cx="1266.0" cy="688.0" rx="14.0" ry="18.0" transform="rotate(0.0 1266.0 688.0)" class="m"/>
<path class="k" d="M1060,625 L1150,665" style="stroke-dasharray:20 8"/>
<path class="kf" d="M1224.9,726.5 L1437.9,818.5 A9.0,18.0 23.4 0 0 1452.1,785.5 L1239.1,693.5 A9.0,18.0 23.4 0 0 1224.9,726.5 Z"/>
<ellipse cx="1445.0" cy="802.0" rx="9.0" ry="18.0" transform="rotate(23.4 1445.0 802.0)" class="mf"/>
<ellipse cx="1455.0" cy="808.0" rx="38.0" ry="42.0" transform="rotate(0.0 1455.0 808.0)" class="kf"/>
<ellipse cx="1450.0" cy="805.0" rx="22.0" ry="26.0" transform="rotate(0.0 1450.0 805.0)" class="kf"/>
<path class="kf" d="M1224.9,726.5 L1432.9,816.5 A9.0,18.0 23.4 0 0 1447.1,783.5 L1239.1,693.5 A9.0,18.0 23.4 0 0 1224.9,726.5 Z"/>
<ellipse cx="1440.0" cy="800.0" rx="9.0" ry="18.0" transform="rotate(23.4 1440.0 800.0)" class="mf"/>
</g>
<!-- 80_leaders.svgf -->
<g class="ld">
<path d="M621.6,454.0 L621.6,562.0"/>
<path d="M779.0,313.6 L858.0,313.6"/>
<path d="M779.0,1122.8 L846.0,1122.8"/>
<path d="M207.3,875.0 L237.3,955.0"/>
<path d="M685.2,887.0 L644.1,957.0"/>
<path d="M101.7,1059.0 L60.5,1127.0"/>
<path d="M678.0,1090.5 L641.6,1146.0"/>
<path d="M508.5,1255.0 L411.6,1199.0"/>
<path d="M1125.3,148.9 L1217.9,78.1"/>
<path d="M1343.3,296.0 L1310.6,357.8"/>
<path d="M1577.5,331.6 L1646.0,331.6"/>
<path d="M1991.0,392.3 L1961.1,441.8"/>
<path d="M1697.4,504.7 L1772.3,513.1"/>
<path d="M1157.2,558.0 L1211.6,496.3"/>
<path d="M1225.4,691.7 L1309.7,670.6"/>
<path d="M1178.5,972.3 L1143.1,1029.4"/>
<path d="M1064.4,1232.0 L1031.0,1289.0"/>
<path d="M1151.0,1285.1 L1117.6,1344.1"/>
<path d="M979.5,1417.2 L945.5,1475.8"/>
<path d="M998.0,1638.0 L963.8,1698.2"/>
<path d="M1877.6,878.1 L1852.8,959.3"/>
<path d="M1601.6,993.5 L1650.6,993.5"/>
<path d="M1550.7,1232.2 L1631.9,1248.0"/>
<path d="M1522.0,1312.6 L1627.2,1337.9"/>
<path d="M1907.0,1388.3 L1873.3,1447.2"/>
<path d="M1486.2,1451.5 L1452.6,1508.2"/>
<path d="M1623.0,1548.2 L1589.3,1607.1"/>
<path d="M1730.2,1623.9 L1696.6,1680.7"/>
<path d="M1904.8,1716.5 L1871.2,1775.4"/>
<path d="M1164.8,1660.0 L1239.5,1703.3"/>
<path d="M698.3,1759.3 L664.4,1817.8"/>
<path d="M110.2,1504.2 L180.0,1513.6"/>
<path d="M86.9,1598.3 L163.1,1614.4"/>
<path d="M74.2,1674.6 L144.0,1691.5"/>
<path d="M61.4,1805.0 L125.0,1814.4"/>
<path d="M74.2,1873.7 L120.8,1851.7"/>
<path d="M250.0,1742.4 L267.8,1840.7"/>
<path d="M499.2,1852.5 L465.3,1909.7"/>
<path d="M936.9,1931.8 L903.0,1991.1"/>
<path d="M803.4,1980.5 L769.5,2033.5"/>
<path d="M1166.6,1976.9 L1237.5,1976.9"/>
<path d="M1209.1,2095.6 L1174.3,2154.5"/>
<path d="M714.0,2163.0 L679.2,2220.9"/>
<path d="M789.2,2208.3 L755.3,2264.9"/>
<path d="M911.7,2257.1 L879.7,2314.2"/>
<path d="M1031.5,2189.3 L1096.9,2226.4"/>
<path d="M1223.8,2223.5 L1192.7,2283.5"/>
<path d="M1022.2,2313.4 L986.8,2370.6"/>
<path d="M1165.3,2373.2 L1130.7,2431.3"/>
<path d="M1405.0,2486.0 L1370.8,2544.5"/>
<path d="M1552.2,2254.4 L1518.6,2312.4"/>
<path d="M1582.0,2487.4 L1546.7,2548.6"/>
<path d="M1912.4,2473.8 L1985.6,2474.9"/>
<path d="M1876.1,2575.7 L1950.4,2573.0"/>
<path d="M1850.1,2657.0 L1923.3,2653.7"/>
<path d="M1744.5,2606.6 L1682.2,2671.6"/>
<path d="M1796.0,2777.2 L1877.2,2787.0"/>
<path d="M1780.8,2821.6 L1858.3,2837.9"/>
</g>
</svg>
<svg width="2095" height="2862" viewBox="0 0 2095 2862" style="will-change:transform">
<text x="1" y="49.8" style="font-size:60px;font-weight:bold">SE</text>
<text x="3.5" y="2848.5" style="font-size:42px">23M1320b, 21b</text>
<text x="888.0" y="327.7" text-anchor="middle">10</text>
<text x="616.5" y="603.0" text-anchor="middle">11</text>
<text x="202.7" y="866.7" text-anchor="middle">6e</text>
<text x="703.0" y="876.0" text-anchor="middle">6b</text>
<text x="117.0" y="1049.3" text-anchor="middle">6a</text>
<text x="697.8" y="1083.2" text-anchor="middle">6c</text>
<text x="538.7" y="1275.4" text-anchor="middle">6d</text>
<text x="1114.4" y="187.8" text-anchor="middle">2</text>
<text x="1356.0" y="281.2" text-anchor="middle">1</text>
<text x="1556.8" y="346.6" text-anchor="middle">9</text>
<text x="2004.6" y="377.4" text-anchor="middle">2</text>
<text x="1794.2" y="527.2" text-anchor="middle">7</text>
<text x="1146.3" y="595.8" text-anchor="middle">3</text>
<text x="1201.8" y="709.5" text-anchor="middle">4</text>
<text x="1133.7" y="1066.3" text-anchor="middle">5</text>
<text x="897.3" y="1136.6" text-anchor="middle">6-6e</text>
<text x="1023.0" y="1327.9" text-anchor="middle">32</text>
<text x="1109.7" y="1380.3" text-anchor="middle">18</text>
<text x="937.7" y="1514.4" text-anchor="middle">46</text>
<text x="1008.9" y="1632.2" text-anchor="middle">33</text>
<text x="1844.7" y="996.0" text-anchor="middle">3</text>
<text x="1670.6" y="1007.7" text-anchor="middle">6</text>
<text x="1651.3" y="1267.5" text-anchor="middle">8</text>
<text x="1647.4" y="1354.1" text-anchor="middle">9</text>
<text x="1861.5" y="1483.2" text-anchor="middle">5</text>
<text x="1445.0" y="1545.5" text-anchor="middle">20</text>
<text x="1580.9" y="1646.5" text-anchor="middle">23</text>
<text x="1688.2" y="1718.0" text-anchor="middle">18</text>
<text x="1862.8" y="1812.6" text-anchor="middle">27</text>
<text x="1273.7" y="1721.4" text-anchor="middle">17</text>
<text x="735.6" y="1745.6" text-anchor="middle">36-41</text>
<text x="78.3" y="1519.4" text-anchor="middle">44</text>
<text x="56.7" y="1609.5" text-anchor="middle">43</text>
<text x="40.7" y="1685.8" text-anchor="middle">40</text>
<text x="27.5" y="1810.8" text-anchor="middle">43</text>
<text x="42.4" y="1894.3" text-anchor="middle">45</text>
<text x="262.7" y="1881.5" text-anchor="middle">41</text>
<text x="457.6" y="1947.3" text-anchor="middle">37</text>
<text x="946.2" y="1917.6" text-anchor="middle">38</text>
<text x="760.2" y="2073.1" text-anchor="middle">39</text>
<text x="1268.4" y="1992.5" text-anchor="middle">34</text>
<text x="1218.9" y="2081.9" text-anchor="middle">38</text>
<text x="674.4" y="2265.0" text-anchor="middle">31</text>
<text x="753.6" y="2307.3" text-anchor="middle">19</text>
<text x="875.0" y="2356.7" text-anchor="middle">21</text>
<text x="1127.0" y="2255.3" text-anchor="middle">35</text>
<text x="1190.0" y="2326.3" text-anchor="middle">39</text>
<text x="985.2" y="2413.8" text-anchor="middle">19</text>
<text x="1127.6" y="2473.7" text-anchor="middle">23</text>
<text x="1365.3" y="2587.7" text-anchor="middle">28</text>
<text x="1590.1" y="2242.4" text-anchor="middle">36-41</text>
<text x="1544.0" y="2586.4" text-anchor="middle">37</text>
<text x="2015.4" y="2485.7" text-anchor="middle">44</text>
<text x="1980.8" y="2585.2" text-anchor="middle">43</text>
<text x="1953.1" y="2663.4" text-anchor="middle">40</text>
<text x="1658.0" y="2706.8" text-anchor="middle">41</text>
<text x="1904.5" y="2799.4" text-anchor="middle">43</text>
<text x="1885.3" y="2847.6" text-anchor="middle">45</text>
</svg>
</body></html>
